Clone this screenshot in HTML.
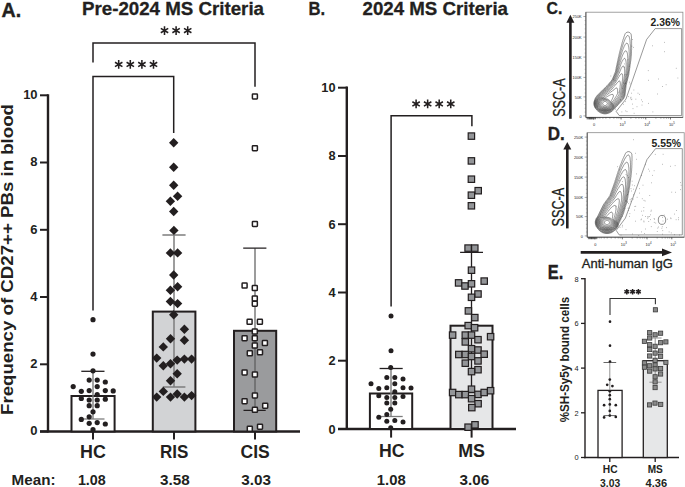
<!DOCTYPE html>
<html><head><meta charset="utf-8"><style>
html,body{margin:0;padding:0;background:#fff;}
svg{display:block;}
text{font-family:"Liberation Sans",sans-serif;}
</style></head><body>
<svg width="685" height="487" viewBox="0 0 685 487">
<rect width="685" height="487" fill="#fff"/>
<text x="1.6" y="16.7" font-size="20.5" font-weight="bold" font-family="Liberation Sans" fill="#231f20" text-anchor="start" textLength="19.6" lengthAdjust="spacingAndGlyphs" stroke="#231f20" stroke-width="0.4">A.</text>
<text x="82" y="15.2" font-size="18.5" font-weight="bold" font-family="Liberation Sans" fill="#231f20" text-anchor="start" textLength="182" lengthAdjust="spacingAndGlyphs" stroke="#231f20" stroke-width="0.3">Pre-2024 MS Criteria</text>
<path d="M48,94.2V432.6" stroke="#231f20" stroke-width="2.4" fill="none"/>
<path d="M40,95.3H48" stroke="#231f20" stroke-width="2"/>
<text x="37.6" y="99.1" font-size="13" font-weight="bold" font-family="Liberation Sans" fill="#231f20" text-anchor="end">10</text>
<path d="M40,162.5H48" stroke="#231f20" stroke-width="2"/>
<text x="37.6" y="166.34" font-size="13" font-weight="bold" font-family="Liberation Sans" fill="#231f20" text-anchor="end">8</text>
<path d="M40,229.8H48" stroke="#231f20" stroke-width="2"/>
<text x="37.6" y="233.57999999999998" font-size="13" font-weight="bold" font-family="Liberation Sans" fill="#231f20" text-anchor="end">6</text>
<path d="M40,297.0H48" stroke="#231f20" stroke-width="2"/>
<text x="37.6" y="300.82" font-size="13" font-weight="bold" font-family="Liberation Sans" fill="#231f20" text-anchor="end">4</text>
<path d="M40,364.3H48" stroke="#231f20" stroke-width="2"/>
<text x="37.6" y="368.06" font-size="13" font-weight="bold" font-family="Liberation Sans" fill="#231f20" text-anchor="end">2</text>
<path d="M40,431.5H48" stroke="#231f20" stroke-width="2"/>
<text x="37.6" y="435.3" font-size="13" font-weight="bold" font-family="Liberation Sans" fill="#231f20" text-anchor="end">0</text>
<g transform="translate(13.4,415) rotate(-90)"><text x="0" y="0" font-size="16.8" font-weight="bold" font-family="Liberation Sans" fill="#231f20" text-anchor="start" textLength="311" lengthAdjust="spacingAndGlyphs">Frequency of CD27++ PBs in blood</text></g>
<path d="M40,431.5H300" stroke="#231f20" stroke-width="2.4"/>
<path d="M93,431.5V439.5" stroke="#231f20" stroke-width="2"/>
<path d="M174,431.5V439.5" stroke="#231f20" stroke-width="2"/>
<path d="M255,431.5V439.5" stroke="#231f20" stroke-width="2"/>
<rect x="71.5" y="396" width="43.1" height="35.5" fill="#fff" stroke="#231f20" stroke-width="2"/>
<rect x="152.8" y="311.6" width="42.6" height="119.9" fill="#d2d3d5" stroke="#231f20" stroke-width="2"/>
<rect x="234" y="330.8" width="42.2" height="100.7" fill="#9a9b9d" stroke="#231f20" stroke-width="2"/>
<path d="M93,371.3V419" stroke="#7d7d7d" stroke-width="1.4"/>
<path d="M81.3,371.3H104.5" stroke="#231f20" stroke-width="1.3"/>
<path d="M81.3,419H104.5" stroke="#7d7d7d" stroke-width="1.3"/>
<path d="M174,234.9V387" stroke="#7d7d7d" stroke-width="1.5"/>
<path d="M162.4,234.9H185.6M162.8,387H185.4" stroke="#7d7d7d" stroke-width="1.5"/>
<path d="M255,248.2V410.2" stroke="#5a5a5a" stroke-width="1.2"/>
<path d="M243.2,248.2H266.4M243.5,410.3H265.7" stroke="#231f20" stroke-width="1.2"/>
<path d="M93,62.4V43H255V86.8" stroke="#231f20" stroke-width="1.5" fill="none"/>
<path d="M93,310.4V76.6H173.7V133" stroke="#231f20" stroke-width="1.5" fill="none"/>
<path d="M164.50,26.30L164.50,34.90M168.22,28.45L160.78,32.75M168.22,32.75L160.78,28.45" stroke="#231f20" stroke-width="1.55" fill="none"/><path d="M176.10,26.30L176.10,34.90M179.82,28.45L172.38,32.75M179.82,32.75L172.38,28.45" stroke="#231f20" stroke-width="1.55" fill="none"/><path d="M187.70,26.30L187.70,34.90M191.42,28.45L183.98,32.75M191.42,32.75L183.98,28.45" stroke="#231f20" stroke-width="1.55" fill="none"/>
<path d="M118.70,60.10L118.70,68.70M122.42,62.25L114.98,66.55M122.42,66.55L114.98,62.25" stroke="#231f20" stroke-width="1.55" fill="none"/><path d="M130.30,60.10L130.30,68.70M134.02,62.25L126.58,66.55M134.02,66.55L126.58,62.25" stroke="#231f20" stroke-width="1.55" fill="none"/><path d="M141.90,60.10L141.90,68.70M145.62,62.25L138.18,66.55M145.62,66.55L138.18,62.25" stroke="#231f20" stroke-width="1.55" fill="none"/><path d="M153.50,60.10L153.50,68.70M157.22,62.25L149.78,66.55M157.22,66.55L149.78,62.25" stroke="#231f20" stroke-width="1.55" fill="none"/>
<circle cx="93" cy="319.7" r="2.6" fill="#231f20"/>
<circle cx="93" cy="354.1" r="2.6" fill="#231f20"/>
<circle cx="93" cy="370.8" r="2.6" fill="#231f20"/>
<circle cx="89.2" cy="380.1" r="2.6" fill="#231f20"/>
<circle cx="97.2" cy="380.1" r="2.6" fill="#231f20"/>
<circle cx="105.3" cy="382" r="2.6" fill="#231f20"/>
<circle cx="73.2" cy="386.6" r="2.6" fill="#231f20"/>
<circle cx="97.2" cy="386.6" r="2.6" fill="#231f20"/>
<circle cx="81.3" cy="391.3" r="2.6" fill="#231f20"/>
<circle cx="89.2" cy="390.6" r="2.6" fill="#231f20"/>
<circle cx="105.3" cy="390.6" r="2.6" fill="#231f20"/>
<circle cx="113.2" cy="390.9" r="2.6" fill="#231f20"/>
<circle cx="97.2" cy="394.5" r="2.6" fill="#231f20"/>
<circle cx="81.3" cy="398.5" r="2.6" fill="#231f20"/>
<circle cx="89.2" cy="400" r="2.6" fill="#231f20"/>
<circle cx="97.2" cy="400" r="2.6" fill="#231f20"/>
<circle cx="105.3" cy="399.2" r="2.6" fill="#231f20"/>
<circle cx="89.2" cy="405.7" r="2.6" fill="#231f20"/>
<circle cx="97.2" cy="405.7" r="2.6" fill="#231f20"/>
<circle cx="93" cy="411.8" r="2.6" fill="#231f20"/>
<circle cx="89.2" cy="416.8" r="2.6" fill="#231f20"/>
<circle cx="81.3" cy="419.4" r="2.6" fill="#231f20"/>
<circle cx="89.2" cy="423.3" r="2.6" fill="#231f20"/>
<circle cx="97.2" cy="422.6" r="2.6" fill="#231f20"/>
<circle cx="105.3" cy="424" r="2.6" fill="#231f20"/>
<circle cx="93" cy="429.7" r="2.6" fill="#231f20"/>
<path d="M173.7,138.0L178.39999999999998,142.7L173.7,147.39999999999998L169.0,142.7Z" fill="#231f20"/>
<path d="M173.7,162.5L178.39999999999998,167.2L173.7,171.89999999999998L169.0,167.2Z" fill="#231f20"/>
<path d="M173.7,180.5L178.39999999999998,185.2L173.7,189.89999999999998L169.0,185.2Z" fill="#231f20"/>
<path d="M177.6,191.60000000000002L182.29999999999998,196.3L177.6,201.0L172.9,196.3Z" fill="#231f20"/>
<path d="M170.4,196.60000000000002L175.1,201.3L170.4,206.0L165.70000000000002,201.3Z" fill="#231f20"/>
<path d="M173.7,206.8L178.39999999999998,211.5L173.7,216.2L169.0,211.5Z" fill="#231f20"/>
<path d="M173.9,225.70000000000002L178.6,230.4L173.9,235.1L169.20000000000002,230.4Z" fill="#231f20"/>
<path d="M170.4,248.20000000000002L175.1,252.9L170.4,257.6L165.70000000000002,252.9Z" fill="#231f20"/>
<path d="M177.6,248.20000000000002L182.29999999999998,252.9L177.6,257.6L172.9,252.9Z" fill="#231f20"/>
<path d="M173.7,270.3L178.39999999999998,275L173.7,279.7L169.0,275Z" fill="#231f20"/>
<path d="M177.6,282.0L182.29999999999998,286.7L177.6,291.4L172.9,286.7Z" fill="#231f20"/>
<path d="M170.4,285.5L175.1,290.2L170.4,294.9L165.70000000000002,290.2Z" fill="#231f20"/>
<path d="M170.4,296.8L175.1,301.5L170.4,306.2L165.70000000000002,301.5Z" fill="#231f20"/>
<path d="M177.6,298.90000000000003L182.29999999999998,303.6L177.6,308.3L172.9,303.6Z" fill="#231f20"/>
<path d="M173.7,310.0L178.39999999999998,314.7L173.7,319.4L169.0,314.7Z" fill="#231f20"/>
<path d="M184.4,324.5L189.1,329.2L184.4,333.9L179.70000000000002,329.2Z" fill="#231f20"/>
<path d="M170.5,334.1L175.2,338.8L170.5,343.5L165.8,338.8Z" fill="#231f20"/>
<path d="M184.4,335.6L189.1,340.3L184.4,345.0L179.70000000000002,340.3Z" fill="#231f20"/>
<path d="M163.3,342.2L168.0,346.9L163.3,351.59999999999997L158.60000000000002,346.9Z" fill="#231f20"/>
<path d="M156.7,353.40000000000003L161.39999999999998,358.1L156.7,362.8L152.0,358.1Z" fill="#231f20"/>
<path d="M177.2,355.40000000000003L181.89999999999998,360.1L177.2,364.8L172.5,360.1Z" fill="#231f20"/>
<path d="M184.4,354.40000000000003L189.1,359.1L184.4,363.8L179.70000000000002,359.1Z" fill="#231f20"/>
<path d="M191.6,354.40000000000003L196.29999999999998,359.1L191.6,363.8L186.9,359.1Z" fill="#231f20"/>
<path d="M163.3,361.1L168.0,365.8L163.3,370.5L158.60000000000002,365.8Z" fill="#231f20"/>
<path d="M170.5,359.0L175.2,363.7L170.5,368.4L165.8,363.7Z" fill="#231f20"/>
<path d="M177.2,369.1L181.89999999999998,373.8L177.2,378.5L172.5,373.8Z" fill="#231f20"/>
<path d="M170.5,376.0L175.2,380.7L170.5,385.4L165.8,380.7Z" fill="#231f20"/>
<path d="M163.3,386.7L168.0,391.4L163.3,396.09999999999997L158.60000000000002,391.4Z" fill="#231f20"/>
<path d="M156.7,392.40000000000003L161.39999999999998,397.1L156.7,401.8L152.0,397.1Z" fill="#231f20"/>
<path d="M170.5,392.40000000000003L175.2,397.1L170.5,401.8L165.8,397.1Z" fill="#231f20"/>
<path d="M177.2,389.3L181.89999999999998,394L177.2,398.7L172.5,394Z" fill="#231f20"/>
<path d="M184.4,392.40000000000003L189.1,397.1L184.4,401.8L179.70000000000002,397.1Z" fill="#231f20"/>
<path d="M191.6,390.90000000000003L196.29999999999998,395.6L191.6,400.3L186.9,395.6Z" fill="#231f20"/>
<rect x="252.40" y="93.90" width="5.0" height="5.0" rx="0.6" fill="#fff" stroke="#231f20" stroke-width="1.5"/>
<rect x="252.40" y="145.70" width="5.0" height="5.0" rx="0.6" fill="#fff" stroke="#231f20" stroke-width="1.5"/>
<rect x="252.40" y="221.40" width="5.0" height="5.0" rx="0.6" fill="#fff" stroke="#231f20" stroke-width="1.5"/>
<rect x="242.10" y="283.10" width="5.0" height="5.0" rx="0.6" fill="#fff" stroke="#231f20" stroke-width="1.5"/>
<rect x="252.30" y="285.60" width="5.0" height="5.0" rx="0.6" fill="#fff" stroke="#231f20" stroke-width="1.5"/>
<rect x="252.30" y="295.90" width="5.0" height="5.0" rx="0.6" fill="#fff" stroke="#231f20" stroke-width="1.5"/>
<rect x="252.30" y="301.20" width="5.0" height="5.0" rx="0.6" fill="#fff" stroke="#231f20" stroke-width="1.5"/>
<rect x="247.10" y="319.30" width="5.0" height="5.0" rx="0.6" fill="#fff" stroke="#231f20" stroke-width="1.5"/>
<rect x="257.40" y="319.30" width="5.0" height="5.0" rx="0.6" fill="#fff" stroke="#231f20" stroke-width="1.5"/>
<rect x="252.30" y="329.10" width="5.0" height="5.0" rx="0.6" fill="#fff" stroke="#231f20" stroke-width="1.5"/>
<rect x="242.10" y="335.70" width="5.0" height="5.0" rx="0.6" fill="#fff" stroke="#231f20" stroke-width="1.5"/>
<rect x="252.30" y="335.70" width="5.0" height="5.0" rx="0.6" fill="#fff" stroke="#231f20" stroke-width="1.5"/>
<rect x="262.40" y="340.60" width="5.0" height="5.0" rx="0.6" fill="#fff" stroke="#231f20" stroke-width="1.5"/>
<rect x="252.30" y="343.10" width="5.0" height="5.0" rx="0.6" fill="#fff" stroke="#231f20" stroke-width="1.5"/>
<rect x="247.30" y="350.80" width="5.0" height="5.0" rx="0.6" fill="#fff" stroke="#231f20" stroke-width="1.5"/>
<rect x="257.50" y="349.80" width="5.0" height="5.0" rx="0.6" fill="#fff" stroke="#231f20" stroke-width="1.5"/>
<rect x="242.10" y="369.90" width="5.0" height="5.0" rx="0.6" fill="#fff" stroke="#231f20" stroke-width="1.5"/>
<rect x="252.40" y="372.00" width="5.0" height="5.0" rx="0.6" fill="#fff" stroke="#231f20" stroke-width="1.5"/>
<rect x="252.40" y="392.90" width="5.0" height="5.0" rx="0.6" fill="#fff" stroke="#231f20" stroke-width="1.5"/>
<rect x="242.10" y="398.70" width="5.0" height="5.0" rx="0.6" fill="#fff" stroke="#231f20" stroke-width="1.5"/>
<rect x="262.70" y="403.20" width="5.0" height="5.0" rx="0.6" fill="#fff" stroke="#231f20" stroke-width="1.5"/>
<rect x="252.40" y="407.30" width="5.0" height="5.0" rx="0.6" fill="#fff" stroke="#231f20" stroke-width="1.5"/>
<rect x="247.30" y="426.20" width="5.0" height="5.0" rx="0.6" fill="#fff" stroke="#231f20" stroke-width="1.5"/>
<rect x="257.50" y="424.20" width="5.0" height="5.0" rx="0.6" fill="#fff" stroke="#231f20" stroke-width="1.5"/>
<text x="80" y="457.9" font-size="17.5" font-weight="bold" font-family="Liberation Sans" fill="#231f20" text-anchor="start" textLength="25.8" lengthAdjust="spacingAndGlyphs">HC</text>
<text x="160" y="457.9" font-size="17.5" font-weight="bold" font-family="Liberation Sans" fill="#231f20" text-anchor="start" textLength="28.4" lengthAdjust="spacingAndGlyphs">RIS</text>
<text x="240.5" y="457.9" font-size="17.5" font-weight="bold" font-family="Liberation Sans" fill="#231f20" text-anchor="start" textLength="29.2" lengthAdjust="spacingAndGlyphs">CIS</text>
<text x="11.6" y="485.2" font-size="15" font-weight="bold" font-family="Liberation Sans" fill="#231f20" text-anchor="start" textLength="43.9" lengthAdjust="spacingAndGlyphs">Mean:</text>
<text x="77.9" y="485.2" font-size="15" font-weight="bold" font-family="Liberation Sans" fill="#231f20" text-anchor="start" textLength="27.9" lengthAdjust="spacingAndGlyphs">1.08</text>
<text x="160" y="485.2" font-size="15" font-weight="bold" font-family="Liberation Sans" fill="#231f20" text-anchor="start" textLength="29.7" lengthAdjust="spacingAndGlyphs">3.58</text>
<text x="241.3" y="485.2" font-size="15" font-weight="bold" font-family="Liberation Sans" fill="#231f20" text-anchor="start" textLength="29.7" lengthAdjust="spacingAndGlyphs">3.03</text>
<text x="308.4" y="14.6" font-size="19" font-weight="bold" font-family="Liberation Sans" fill="#231f20" text-anchor="start" textLength="16.6" lengthAdjust="spacingAndGlyphs" stroke="#231f20" stroke-width="0.3">B.</text>
<text x="362.5" y="15.2" font-size="18.5" font-weight="bold" font-family="Liberation Sans" fill="#231f20" text-anchor="start" textLength="145.5" lengthAdjust="spacingAndGlyphs" stroke="#231f20" stroke-width="0.3">2024 MS Criteria</text>
<path d="M346.8,86.5V430.1" stroke="#231f20" stroke-width="2.4" fill="none"/>
<path d="M338,87.7H347" stroke="#231f20" stroke-width="2"/>
<text x="335.5" y="92.2" font-size="12.8" font-weight="bold" font-family="Liberation Sans" fill="#231f20" text-anchor="end">10</text>
<path d="M338,156.0H347" stroke="#231f20" stroke-width="2"/>
<text x="335.5" y="160.46" font-size="12.8" font-weight="bold" font-family="Liberation Sans" fill="#231f20" text-anchor="end">8</text>
<path d="M338,224.2H347" stroke="#231f20" stroke-width="2"/>
<text x="335.5" y="228.72000000000003" font-size="12.8" font-weight="bold" font-family="Liberation Sans" fill="#231f20" text-anchor="end">6</text>
<path d="M338,292.5H347" stroke="#231f20" stroke-width="2"/>
<text x="335.5" y="296.98" font-size="12.8" font-weight="bold" font-family="Liberation Sans" fill="#231f20" text-anchor="end">4</text>
<path d="M338,360.7H347" stroke="#231f20" stroke-width="2"/>
<text x="335.5" y="365.24" font-size="12.8" font-weight="bold" font-family="Liberation Sans" fill="#231f20" text-anchor="end">2</text>
<path d="M338,429.0H347" stroke="#231f20" stroke-width="2"/>
<text x="335.5" y="433.5" font-size="12.8" font-weight="bold" font-family="Liberation Sans" fill="#231f20" text-anchor="end">0</text>
<path d="M338,429H516" stroke="#231f20" stroke-width="2.4"/>
<path d="M391.1,429V437.6" stroke="#231f20" stroke-width="2"/>
<path d="M471.6,429V437.6" stroke="#231f20" stroke-width="2"/>
<rect x="369.9" y="393.5" width="42.3" height="35.5" fill="#fff" stroke="#231f20" stroke-width="2"/>
<rect x="450.5" y="325.7" width="42" height="103.3" fill="#e6e7e8" stroke="#231f20" stroke-width="2"/>
<path d="M391,368.5V416.5" stroke="#7d7d7d" stroke-width="1.4"/>
<path d="M379.6,368.5H402.7" stroke="#231f20" stroke-width="1.3"/>
<path d="M379.6,416.5H402.7" stroke="#7d7d7d" stroke-width="1.3"/>
<path d="M471.5,252.4V392.5M460.1,252.4H483M460.1,392.5H483" stroke="#231f20" stroke-width="1.3"/>
<path d="M391.1,306.4V115.8H471.9V126.3" stroke="#231f20" stroke-width="1.5" fill="none"/>
<path d="M416.10,99.60L416.10,108.20M419.82,101.75L412.38,106.05M419.82,106.05L412.38,101.75" stroke="#231f20" stroke-width="1.55" fill="none"/><path d="M427.65,99.60L427.65,108.20M431.37,101.75L423.93,106.05M431.37,106.05L423.93,101.75" stroke="#231f20" stroke-width="1.55" fill="none"/><path d="M439.20,99.60L439.20,108.20M442.92,101.75L435.48,106.05M442.92,106.05L435.48,101.75" stroke="#231f20" stroke-width="1.55" fill="none"/><path d="M450.75,99.60L450.75,108.20M454.47,101.75L447.03,106.05M454.47,106.05L447.03,101.75" stroke="#231f20" stroke-width="1.55" fill="none"/>
<circle cx="391" cy="316" r="2.5" fill="#231f20"/>
<circle cx="391" cy="350.8" r="2.5" fill="#231f20"/>
<circle cx="390.7" cy="367.4" r="2.5" fill="#231f20"/>
<circle cx="386.8" cy="377.4" r="2.5" fill="#231f20"/>
<circle cx="394.8" cy="377.4" r="2.5" fill="#231f20"/>
<circle cx="403" cy="378.9" r="2.5" fill="#231f20"/>
<circle cx="371" cy="383.8" r="2.5" fill="#231f20"/>
<circle cx="394.8" cy="383.8" r="2.5" fill="#231f20"/>
<circle cx="378.8" cy="388.5" r="2.5" fill="#231f20"/>
<circle cx="386.8" cy="387.7" r="2.5" fill="#231f20"/>
<circle cx="403" cy="387.7" r="2.5" fill="#231f20"/>
<circle cx="411" cy="388" r="2.5" fill="#231f20"/>
<circle cx="394.8" cy="391.8" r="2.5" fill="#231f20"/>
<circle cx="378.8" cy="395.7" r="2.5" fill="#231f20"/>
<circle cx="386.8" cy="397.4" r="2.5" fill="#231f20"/>
<circle cx="394.8" cy="397.4" r="2.5" fill="#231f20"/>
<circle cx="403" cy="396.6" r="2.5" fill="#231f20"/>
<circle cx="386.8" cy="403" r="2.5" fill="#231f20"/>
<circle cx="394.8" cy="403" r="2.5" fill="#231f20"/>
<circle cx="390.7" cy="409.2" r="2.5" fill="#231f20"/>
<circle cx="386.8" cy="414.6" r="2.5" fill="#231f20"/>
<circle cx="378.8" cy="417.2" r="2.5" fill="#231f20"/>
<circle cx="386.8" cy="421.2" r="2.5" fill="#231f20"/>
<circle cx="394.8" cy="420.5" r="2.5" fill="#231f20"/>
<circle cx="403" cy="422" r="2.5" fill="#231f20"/>
<circle cx="390.7" cy="427.7" r="2.5" fill="#231f20"/>
<rect x="468.20" y="132.90" width="6.4" height="6.4" fill="#939598" stroke="#231f20" stroke-width="1.2"/>
<rect x="468.20" y="157.70" width="6.4" height="6.4" fill="#939598" stroke="#231f20" stroke-width="1.2"/>
<rect x="468.20" y="176.00" width="6.4" height="6.4" fill="#939598" stroke="#231f20" stroke-width="1.2"/>
<rect x="475.00" y="187.50" width="6.4" height="6.4" fill="#939598" stroke="#231f20" stroke-width="1.2"/>
<rect x="468.20" y="192.00" width="6.4" height="6.4" fill="#939598" stroke="#231f20" stroke-width="1.2"/>
<rect x="468.20" y="202.60" width="6.4" height="6.4" fill="#939598" stroke="#231f20" stroke-width="1.2"/>
<rect x="464.90" y="244.90" width="6.4" height="6.4" fill="#939598" stroke="#231f20" stroke-width="1.2"/>
<rect x="471.60" y="244.90" width="6.4" height="6.4" fill="#939598" stroke="#231f20" stroke-width="1.2"/>
<rect x="468.30" y="267.00" width="6.4" height="6.4" fill="#939598" stroke="#231f20" stroke-width="1.2"/>
<rect x="455.40" y="279.70" width="6.4" height="6.4" fill="#939598" stroke="#231f20" stroke-width="1.2"/>
<rect x="461.80" y="282.80" width="6.4" height="6.4" fill="#939598" stroke="#231f20" stroke-width="1.2"/>
<rect x="468.30" y="280.60" width="6.4" height="6.4" fill="#939598" stroke="#231f20" stroke-width="1.2"/>
<rect x="481.00" y="277.90" width="6.4" height="6.4" fill="#939598" stroke="#231f20" stroke-width="1.2"/>
<rect x="474.80" y="290.80" width="6.4" height="6.4" fill="#939598" stroke="#231f20" stroke-width="1.2"/>
<rect x="468.30" y="294.10" width="6.4" height="6.4" fill="#939598" stroke="#231f20" stroke-width="1.2"/>
<rect x="465.20" y="307.70" width="6.4" height="6.4" fill="#939598" stroke="#231f20" stroke-width="1.2"/>
<rect x="471.60" y="314.40" width="6.4" height="6.4" fill="#939598" stroke="#231f20" stroke-width="1.2"/>
<rect x="465.00" y="322.40" width="6.4" height="6.4" fill="#939598" stroke="#231f20" stroke-width="1.2"/>
<rect x="471.40" y="324.50" width="6.4" height="6.4" fill="#939598" stroke="#231f20" stroke-width="1.2"/>
<rect x="449.40" y="331.90" width="6.4" height="6.4" fill="#939598" stroke="#231f20" stroke-width="1.2"/>
<rect x="462.10" y="331.90" width="6.4" height="6.4" fill="#939598" stroke="#231f20" stroke-width="1.2"/>
<rect x="468.30" y="331.90" width="6.4" height="6.4" fill="#939598" stroke="#231f20" stroke-width="1.2"/>
<rect x="487.40" y="333.50" width="6.4" height="6.4" fill="#939598" stroke="#231f20" stroke-width="1.2"/>
<rect x="474.80" y="336.50" width="6.4" height="6.4" fill="#939598" stroke="#231f20" stroke-width="1.2"/>
<rect x="462.10" y="338.70" width="6.4" height="6.4" fill="#939598" stroke="#231f20" stroke-width="1.2"/>
<rect x="468.30" y="345.50" width="6.4" height="6.4" fill="#939598" stroke="#231f20" stroke-width="1.2"/>
<rect x="474.80" y="346.80" width="6.4" height="6.4" fill="#939598" stroke="#231f20" stroke-width="1.2"/>
<rect x="455.60" y="351.30" width="6.4" height="6.4" fill="#939598" stroke="#231f20" stroke-width="1.2"/>
<rect x="462.10" y="351.30" width="6.4" height="6.4" fill="#939598" stroke="#231f20" stroke-width="1.2"/>
<rect x="468.30" y="353.30" width="6.4" height="6.4" fill="#939598" stroke="#231f20" stroke-width="1.2"/>
<rect x="481.00" y="351.00" width="6.4" height="6.4" fill="#939598" stroke="#231f20" stroke-width="1.2"/>
<rect x="474.80" y="357.70" width="6.4" height="6.4" fill="#939598" stroke="#231f20" stroke-width="1.2"/>
<rect x="462.10" y="360.00" width="6.4" height="6.4" fill="#939598" stroke="#231f20" stroke-width="1.2"/>
<rect x="474.80" y="366.50" width="6.4" height="6.4" fill="#939598" stroke="#231f20" stroke-width="1.2"/>
<rect x="468.30" y="368.40" width="6.4" height="6.4" fill="#939598" stroke="#231f20" stroke-width="1.2"/>
<rect x="468.30" y="386.00" width="6.4" height="6.4" fill="#939598" stroke="#231f20" stroke-width="1.2"/>
<rect x="449.40" y="389.30" width="6.4" height="6.4" fill="#939598" stroke="#231f20" stroke-width="1.2"/>
<rect x="455.60" y="391.40" width="6.4" height="6.4" fill="#939598" stroke="#231f20" stroke-width="1.2"/>
<rect x="462.10" y="391.40" width="6.4" height="6.4" fill="#939598" stroke="#231f20" stroke-width="1.2"/>
<rect x="474.80" y="391.20" width="6.4" height="6.4" fill="#939598" stroke="#231f20" stroke-width="1.2"/>
<rect x="481.00" y="389.30" width="6.4" height="6.4" fill="#939598" stroke="#231f20" stroke-width="1.2"/>
<rect x="487.40" y="387.50" width="6.4" height="6.4" fill="#939598" stroke="#231f20" stroke-width="1.2"/>
<rect x="468.40" y="395.50" width="6.4" height="6.4" fill="#939598" stroke="#231f20" stroke-width="1.2"/>
<rect x="474.90" y="400.50" width="6.4" height="6.4" fill="#939598" stroke="#231f20" stroke-width="1.2"/>
<rect x="468.60" y="404.40" width="6.4" height="6.4" fill="#939598" stroke="#231f20" stroke-width="1.2"/>
<rect x="464.90" y="424.00" width="6.4" height="6.4" fill="#939598" stroke="#231f20" stroke-width="1.2"/>
<rect x="471.80" y="421.60" width="6.4" height="6.4" fill="#939598" stroke="#231f20" stroke-width="1.2"/>
<text x="378.9" y="457.1" font-size="17.5" font-weight="bold" font-family="Liberation Sans" fill="#231f20" text-anchor="start" textLength="25.5" lengthAdjust="spacingAndGlyphs">HC</text>
<text x="458.2" y="457.1" font-size="17.5" font-weight="bold" font-family="Liberation Sans" fill="#231f20" text-anchor="start" textLength="26.8" lengthAdjust="spacingAndGlyphs">MS</text>
<text x="376.8" y="485.4" font-size="15" font-weight="bold" font-family="Liberation Sans" fill="#231f20" text-anchor="start" textLength="28.9" lengthAdjust="spacingAndGlyphs">1.08</text>
<text x="459.5" y="485.4" font-size="15" font-weight="bold" font-family="Liberation Sans" fill="#231f20" text-anchor="start" textLength="29.7" lengthAdjust="spacingAndGlyphs">3.06</text>
<text x="546.6" y="13.5" font-size="17" font-weight="bold" font-family="Liberation Sans" fill="#231f20" text-anchor="start" textLength="15.8" lengthAdjust="spacingAndGlyphs" stroke="#231f20" stroke-width="0.35">C.</text>
<rect x="585.9" y="12.2" width="97.0" height="105.2" fill="none" stroke="#8a8a8a" stroke-width="0.8"/>
<path d="M585.9,12.2V117.4H682.9" fill="none" stroke="#444" stroke-width="0.8"/>
<text x="581.6999999999999" y="18.3" font-size="3.9" font-weight="normal" font-family="Liberation Sans" fill="#222" text-anchor="end">250K</text>
<path d="M583.4,16.5H585.9" stroke="#555" stroke-width="0.5"/>
<text x="581.6999999999999" y="38.9" font-size="3.9" font-weight="normal" font-family="Liberation Sans" fill="#222" text-anchor="end">200K</text>
<path d="M583.4,37.1H585.9" stroke="#555" stroke-width="0.5"/>
<text x="581.6999999999999" y="58.9" font-size="3.9" font-weight="normal" font-family="Liberation Sans" fill="#222" text-anchor="end">150K</text>
<path d="M583.4,57.1H585.9" stroke="#555" stroke-width="0.5"/>
<text x="581.6999999999999" y="79.2" font-size="3.9" font-weight="normal" font-family="Liberation Sans" fill="#222" text-anchor="end">100K</text>
<path d="M583.4,77.4H585.9" stroke="#555" stroke-width="0.5"/>
<text x="581.6999999999999" y="98.7" font-size="3.9" font-weight="normal" font-family="Liberation Sans" fill="#222" text-anchor="end">50K</text>
<path d="M583.4,96.9H585.9" stroke="#555" stroke-width="0.5"/>
<text x="581.6999999999999" y="117.7" font-size="3.9" font-weight="normal" font-family="Liberation Sans" fill="#222" text-anchor="end">0</text>
<path d="M583.4,115.9H585.9" stroke="#555" stroke-width="0.5"/>
<path d="M584.6,20.6H585.9M584.6,24.7H585.9M584.6,28.9H585.9M584.6,33.0H585.9M584.6,41.1H585.9M584.6,45.1H585.9M584.6,49.1H585.9M584.6,53.1H585.9M584.6,61.2H585.9M584.6,65.2H585.9M584.6,69.3H585.9M584.6,73.3H585.9M584.6,81.3H585.9M584.6,85.2H585.9M584.6,89.1H585.9M584.6,93.0H585.9M584.6,100.7H585.9M584.6,104.5H585.9M584.6,108.3H585.9M584.6,112.1H585.9" stroke="#666" stroke-width="0.4"/>
<text x="594.1" y="126.2" font-size="3.9" font-weight="normal" font-family="Liberation Sans" fill="#222" text-anchor="middle">0</text>
<path d="M593.5,117.4V119.60000000000001" stroke="#444" stroke-width="0.6"/>
<text x="621.7" y="126.2" font-size="3.9" font-weight="normal" font-family="Liberation Sans" fill="#222" text-anchor="middle">10</text>
<text x="623.9" y="124.0" font-size="2.8" font-weight="normal" font-family="Liberation Sans" fill="#222" text-anchor="start">3</text>
<path d="M621.1,117.4V119.60000000000001" stroke="#444" stroke-width="0.6"/>
<text x="646.4" y="126.2" font-size="3.9" font-weight="normal" font-family="Liberation Sans" fill="#222" text-anchor="middle">10</text>
<text x="648.5999999999999" y="124.0" font-size="2.8" font-weight="normal" font-family="Liberation Sans" fill="#222" text-anchor="start">4</text>
<path d="M645.8,117.4V119.60000000000001" stroke="#444" stroke-width="0.6"/>
<text x="671.1" y="126.2" font-size="3.9" font-weight="normal" font-family="Liberation Sans" fill="#222" text-anchor="middle">10</text>
<text x="673.3" y="124.0" font-size="2.8" font-weight="normal" font-family="Liberation Sans" fill="#222" text-anchor="start">5</text>
<path d="M670.5,117.4V119.60000000000001" stroke="#444" stroke-width="0.6"/>
<path d="M587.9,117.4V118.80000000000001M589.4,117.4V118.80000000000001M590.4,117.4V118.80000000000001M591.4,117.4V118.80000000000001M592.4,117.4V118.80000000000001M594.9,117.4V118.80000000000001M595.9,117.4V118.80000000000001M597.9,117.4V118.80000000000001M599.9,117.4V118.80000000000001M602.9,117.4V118.80000000000001M605.9,117.4V118.80000000000001M609.9,117.4V118.80000000000001M613.9,117.4V118.80000000000001M616.9,117.4V118.80000000000001M618.9,117.4V118.80000000000001M620.9,117.4V118.80000000000001M630.9,117.4V118.80000000000001M635.9,117.4V118.80000000000001M638.9,117.4V118.80000000000001M641.4,117.4V118.80000000000001M643.4,117.4V118.80000000000001M645.4,117.4V118.80000000000001M655.9,117.4V118.80000000000001M660.9,117.4V118.80000000000001M663.9,117.4V118.80000000000001M666.4,117.4V118.80000000000001M668.4,117.4V118.80000000000001M670.4,117.4V118.80000000000001" stroke="#444" stroke-width="0.45"/>
<path d="M587.1,117.4V119.4M588.1,117.4V119.4M588.9,117.4V119.4M589.6,117.4V119.4M590.2,117.4V119.4M590.8,117.4V119.4M591.5,117.4V119.4M592.3,117.4V119.4M593.2,117.4V119.4M594.2,117.4V119.4M595.4,117.4V119.4" stroke="#222" stroke-width="0.55"/>
<path d="M633.8,113.3h0.6M625.5,110.9h0.6M630.9,99.6h0.6M648.2,103.4h0.6M632.7,108.6h0.6M642.0,101.7h0.6M637.7,93.2h0.6M630.1,98.1h0.6M622.3,88.4h0.6M620.0,99.9h0.6M631.6,99.1h0.6M633.6,90.0h0.6M632.4,104.1h0.6M639.0,94.4h0.6M629.8,83.9h0.6M629.0,82.2h0.6M621.6,111.9h0.6M615.4,109.2h0.6M635.6,99.2h0.6M636.7,106.7h0.6M641.4,99.9h0.6M628.3,96.6h0.6M625.1,101.6h0.6M626.7,111.6h0.6M618.0,92.2h0.6M625.4,83.2h0.6M648.2,80.3h0.6M630.7,97.3h0.6M631.6,46.2h0.6M629.3,66.3h0.6M624.4,67.3h0.6M627.6,59.8h0.6M624.7,83.7h0.6M632.4,39.5h0.6M631.1,93.2h0.6M623.1,82.9h0.6M623.1,104.3h0.6M625.8,74.6h0.6M624.1,74.8h0.6M624.3,63.9h0.6M633.2,47.4h0.6M610.6,76.0h0.6M652.4,45.8h0.6M664.0,42.4h0.6M647.9,70.6h0.6M664.4,51.7h0.6M641.7,105.1h0.6M652.6,111.9h0.6M675.9,68.3h0.6M658.4,79.0h0.6M665.8,84.7h0.6M662.4,86.5h0.6M677.6,78.0h0.6M657.2,94.0h0.6" stroke="#555" stroke-width="0.65" fill="none"/>
<path d="M681.6,115.5 L619.2,115.5 L616.2,111.4 L626,99 L646.6,39.5 L655.2,28.6 L681.6,28.6 L681.6,115.5" stroke="#444" stroke-width="0.55" fill="none"/>
<path d="M605.8,113.8L605.2,113.8L604.8,113.8L604.2,113.8L604.0,113.7L603.5,113.7L603.0,113.6L602.5,113.5L602.2,113.4L601.8,113.3L601.5,113.2L601.0,113.0L600.8,112.9L600.4,112.8L600.0,112.6L599.8,112.4L599.4,112.2L599.0,112.0L598.8,111.8L598.5,111.6L598.2,111.4L598.0,111.2L597.8,111.0L597.5,110.8L597.2,110.5L597.0,110.2L596.8,110.0L596.5,109.6L596.2,109.3L596.0,109.0L595.8,108.8L595.6,108.5L595.4,108.2L595.2,108.0L595.0,107.6L594.8,107.2L594.7,107.0L594.5,106.6L594.3,106.2L594.2,106.0L594.1,105.5L594.0,105.0L594.0,104.8L593.9,104.2L593.9,103.8L593.9,103.2L593.9,102.8L594.0,102.2L594.0,102.0L594.1,101.5L594.2,101.0L594.3,100.8L594.5,100.4L594.6,100.0L594.8,99.6L594.9,99.2L595.0,98.9L595.2,98.5L595.3,98.2L595.5,97.9L595.7,97.5L595.9,97.2L596.0,97.0L596.2,96.7L596.5,96.4L596.8,96.0L597.0,95.8L597.2,95.5L597.5,95.2L597.7,95.0L598.0,94.8L598.2,94.5L598.5,94.2L598.7,94.0L599.0,93.8L599.2,93.5L599.5,93.2L599.7,93.0L600.0,92.8L600.2,92.5L600.5,92.2L600.7,92.0L601.0,91.8L601.2,91.5L601.5,91.2L601.7,91.0L602.0,90.8L602.2,90.5L602.5,90.2L602.7,90.0L603.0,89.8L603.2,89.5L603.5,89.3L603.8,89.0L604.0,88.8L604.2,88.5L604.5,88.3L604.8,88.0L605.0,87.8L605.2,87.5L605.5,87.3L605.8,87.0L606.0,86.8L606.2,86.6L606.5,86.3L606.8,86.1L607.0,85.8L607.2,85.5L607.5,85.2L607.7,85.0L607.9,84.8L608.1,84.5L608.3,84.2L608.6,84.0L608.8,83.8L609.0,83.5L609.2,83.2L609.5,82.9L609.8,82.6L610.0,82.3L610.2,82.0L610.4,81.8L610.7,81.5L610.9,81.2L611.1,81.0L611.3,80.8L611.5,80.5L611.8,80.2L612.0,79.9L612.2,79.5L612.4,79.2L612.5,79.0L612.7,78.5L612.8,78.2L613.0,77.8L613.1,77.5L613.2,77.1L613.4,76.8L613.5,76.5L613.7,76.0L613.8,75.8L614.0,75.3L614.1,75.0L614.2,74.7L614.4,74.2L614.5,74.0L614.7,73.5L614.8,73.2L615.0,72.9L615.1,72.5L615.2,72.2L615.5,71.8L615.5,71.5L615.6,71.0L615.7,70.5L615.8,70.2L615.8,69.8L615.9,69.2L616.0,69.0L616.1,68.5L616.2,68.0L616.2,67.7L616.3,67.2L616.4,66.8L616.5,66.5L616.6,66.0L616.7,65.5L616.8,65.2L616.9,64.8L617.0,64.2L617.0,64.0L617.1,63.5L617.2,63.0L617.3,62.8L617.4,62.2L617.5,61.8L617.5,61.5L617.7,61.0L617.8,60.6L617.8,60.2L617.9,59.8L618.0,59.4L618.1,59.0L618.2,58.5L618.3,58.2L618.4,57.8L618.5,57.2L618.6,57.0L618.7,56.5L618.8,56.2L618.8,55.8L619.0,55.2L619.0,55.0L619.1,54.5L619.2,54.1L619.3,53.8L619.4,53.2L619.5,53.0L619.6,52.5L619.8,52.0L619.8,51.8L619.9,51.2L620.0,51.0L620.1,50.5L620.2,50.0L620.3,49.8L620.4,49.2L620.5,49.0L620.6,48.5L620.8,48.0L620.8,47.8L621.0,47.2L621.0,47.0L621.2,46.5L621.2,46.1L621.4,45.8L621.5,45.2L621.6,45.0L621.7,44.5L621.8,44.2L621.9,43.8L622.0,43.4L622.1,43.0L622.2,42.5L622.3,42.2L622.5,41.8L622.5,41.5L622.7,41.0L622.8,40.8L622.9,40.2L623.0,40.0L623.1,39.5L623.2,39.1L623.4,38.8L623.5,38.4L623.6,38.0L623.8,37.6L623.9,37.2L624.0,36.8L624.1,36.5L624.2,36.1L624.4,35.8L624.5,35.4L624.6,35.0L624.8,34.7L624.9,34.2L625.0,34.0L625.2,33.6L625.5,33.3L625.8,33.0L626.0,32.8L626.2,32.7L626.6,32.5L627.0,32.3L627.3,32.2L627.8,32.2L628.2,32.2L628.7,32.2L629.0,32.3L629.4,32.5L629.8,32.7L630.0,32.8L630.2,33.0L630.5,33.3L630.8,33.6L631.0,34.0L631.1,34.2L631.2,34.8L631.3,35.0L631.3,35.5L631.4,36.0L631.4,36.5L631.4,37.0L631.5,37.5L631.5,38.0L631.5,38.2L631.5,38.8L631.5,39.2L631.6,39.8L631.6,40.2L631.6,40.8L631.6,41.2L631.6,41.8L631.6,42.2L631.6,42.8L631.6,43.2L631.6,43.8L631.6,44.2L631.6,44.8L631.6,45.2L631.6,45.8L631.6,46.2L631.6,46.8L631.6,47.2L631.6,47.8L631.6,48.2L631.6,48.8L631.6,49.2L631.6,49.8L631.5,50.2L631.5,50.8L631.5,51.2L631.5,51.6L631.5,52.0L631.5,52.5L631.5,53.0L631.4,53.5L631.4,54.0L631.4,54.5L631.4,55.0L631.3,55.5L631.3,56.0L631.2,56.2L631.2,56.8L631.1,57.2L631.1,57.8L631.0,58.2L631.0,58.5L630.9,59.0L630.9,59.5L630.8,60.0L630.8,60.4L630.7,60.8L630.6,61.2L630.6,61.8L630.5,62.2L630.5,62.5L630.4,63.0L630.4,63.5L630.3,64.0L630.2,64.3L630.2,64.8L630.1,65.2L630.0,65.8L630.0,66.1L629.9,66.5L629.9,67.0L629.8,67.5L629.8,67.9L629.7,68.2L629.6,68.8L629.6,69.2L629.5,69.6L629.4,70.0L629.4,70.5L629.3,71.0L629.2,71.3L629.2,71.8L629.1,72.2L629.0,72.8L629.0,73.0L628.9,73.5L628.8,74.0L628.8,74.5L628.7,74.8L628.6,75.2L628.5,75.7L628.4,76.0L628.3,76.5L628.2,76.8L628.1,77.2L628.0,77.7L627.9,78.0L627.8,78.5L627.7,78.8L627.6,79.2L627.5,79.7L627.4,80.0L627.3,80.5L627.2,80.8L627.1,81.2L627.0,81.6L626.9,82.0L626.8,82.5L626.7,82.8L626.6,83.2L626.5,83.6L626.4,84.0L626.3,84.5L626.2,84.8L626.1,85.2L626.1,85.8L626.0,86.2L626.0,86.5L625.9,87.0L625.9,87.5L625.8,88.0L625.8,88.5L625.7,88.8L625.7,89.2L625.6,89.8L625.5,90.2L625.5,90.7L625.5,91.0L625.4,91.5L625.4,92.0L625.3,92.5L625.3,93.0L625.2,93.2L625.2,93.8L625.1,94.2L625.1,94.8L625.0,95.1L624.9,95.5L624.8,96.0L624.7,96.2L624.5,96.8L624.4,97.0L624.2,97.4L624.1,97.8L623.9,98.0L623.8,98.3L623.5,98.7L623.3,99.0L623.1,99.2L622.9,99.5L622.7,99.8L622.5,100.0L622.2,100.3L622.0,100.6L621.8,100.9L621.5,101.1L621.2,101.4L621.0,101.7L620.8,102.0L620.5,102.2L620.2,102.5L620.0,102.8L619.8,103.0L619.6,103.2L619.3,103.5L619.1,103.8L618.9,104.0L618.6,104.2L618.4,104.5L618.2,104.8L617.9,105.0L617.7,105.2L617.5,105.5L617.2,105.8L617.0,106.0L616.8,106.3L616.5,106.5L616.2,106.8L616.0,107.1L615.8,107.3L615.5,107.6L615.2,107.9L615.0,108.1L614.8,108.4L614.5,108.7L614.2,108.9L614.0,109.2L613.8,109.5L613.5,109.7L613.2,110.0L613.0,110.2L612.8,110.5L612.5,110.8L612.2,111.0L612.0,111.2L611.8,111.4L611.5,111.6L611.2,111.8L611.0,112.0L610.6,112.2L610.2,112.4L610.0,112.6L609.6,112.8L609.2,112.9L609.0,113.0L608.5,113.2L608.2,113.3L607.8,113.4L607.5,113.5L607.0,113.6L606.5,113.7L606.0,113.7L605.8,113.8ZM605.2,113.3L604.8,113.3L604.5,113.2L604.0,113.2L603.5,113.2L603.0,113.1L602.7,113.0L602.2,112.9L601.8,112.8L601.5,112.6L601.1,112.5L600.8,112.3L600.5,112.2L600.1,112.0L599.8,111.8L599.5,111.7L599.2,111.5L598.9,111.2L598.6,111.0L598.3,110.8L598.0,110.5L597.8,110.3L597.5,110.0L597.3,109.8L597.0,109.5L596.8,109.3L596.5,109.0L596.3,108.8L596.1,108.5L595.9,108.2L595.7,108.0L595.5,107.7L595.2,107.3L595.1,107.0L595.0,106.8L594.8,106.2L594.7,106.0L594.5,105.5L594.5,105.2L594.4,104.8L594.3,104.2L594.3,103.8L594.3,103.2L594.3,102.8L594.4,102.2L594.5,101.8L594.5,101.5L594.7,101.0L594.8,100.8L595.0,100.2L595.1,100.0L595.2,99.7L595.4,99.2L595.6,99.0L595.8,98.6L595.9,98.2L596.0,98.0L596.2,97.6L596.5,97.3L596.7,97.0L596.9,96.8L597.1,96.5L597.3,96.2L597.5,96.0L597.8,95.7L598.0,95.5L598.2,95.2L598.5,95.0L598.8,94.7L599.0,94.5L599.3,94.2L599.5,94.0L599.8,93.8L600.0,93.5L600.3,93.2L600.5,93.0L600.8,92.8L601.0,92.5L601.3,92.2L601.5,92.0L601.8,91.8L602.0,91.5L602.3,91.2L602.6,91.0L602.8,90.8L603.1,90.5L603.3,90.2L603.6,90.0L603.8,89.8L604.1,89.5L604.3,89.2L604.6,89.0L604.9,88.8L605.1,88.5L605.4,88.2L605.6,88.0L605.9,87.8L606.2,87.5L606.4,87.2L606.7,87.0L606.9,86.8L607.2,86.5L607.5,86.2L607.7,86.0L607.9,85.8L608.1,85.5L608.3,85.2L608.5,85.0L608.8,84.7L609.0,84.4L609.2,84.1L609.5,83.8L609.8,83.5L610.0,83.2L610.2,83.0L610.4,82.8L610.6,82.5L610.8,82.2L611.0,82.0L611.2,81.7L611.5,81.4L611.8,81.0L612.0,80.8L612.2,80.5L612.4,80.2L612.6,80.0L612.8,79.8L613.0,79.2L613.1,79.0L613.2,78.6L613.4,78.2L613.5,78.0L613.7,77.5L613.8,77.2L614.0,76.8L614.1,76.5L614.2,76.2L614.4,75.8L614.5,75.5L614.7,75.0L614.8,74.8L615.0,74.4L615.2,74.0L615.3,73.8L615.5,73.2L615.6,73.0L615.8,72.6L615.9,72.2L616.0,72.0L616.1,71.5L616.2,71.0L616.3,70.8L616.4,70.2L616.5,69.8L616.5,69.5L616.6,69.0L616.8,68.5L616.8,68.2L616.9,67.8L617.0,67.3L617.1,67.0L617.2,66.5L617.2,66.2L617.3,65.8L617.5,65.2L617.5,65.0L617.6,64.5L617.7,64.0L617.8,63.8L617.9,63.2L618.0,62.9L618.1,62.5L618.2,62.0L618.3,61.8L618.4,61.2L618.5,60.8L618.6,60.5L618.7,60.0L618.8,59.7L618.9,59.2L619.0,58.8L619.1,58.5L619.2,58.0L619.2,57.7L619.4,57.2L619.5,56.8L619.6,56.5L619.7,56.0L619.8,55.8L619.9,55.2L620.0,54.8L620.1,54.5L620.2,54.0L620.3,53.8L620.4,53.2L620.5,53.0L620.6,52.5L620.8,52.1L620.8,51.8L621.0,51.2L621.0,51.0L621.2,50.5L621.3,50.2L621.4,49.8L621.5,49.4L621.6,49.0L621.8,48.5L621.8,48.2L622.0,47.8L622.1,47.5L622.2,47.0L622.3,46.8L622.4,46.2L622.5,46.0L622.7,45.5L622.8,45.2L622.9,44.8L623.0,44.5L623.2,44.0L623.3,43.8L623.4,43.2L623.5,43.0L623.7,42.5L623.8,42.2L624.0,41.8L624.1,41.5L624.2,41.0L624.4,40.8L624.5,40.4L624.7,40.0L624.8,39.8L625.0,39.2L625.1,39.0L625.2,38.7L625.5,38.2L625.6,38.0L625.8,37.7L626.0,37.3L626.2,37.0L626.3,36.8L626.5,36.5L626.8,36.2L627.0,35.9L627.2,35.7L627.8,35.5L628.0,35.5L628.2,35.6L628.5,35.8L628.8,36.1L629.0,36.5L629.1,36.8L629.2,37.1L629.4,37.5L629.5,38.0L629.6,38.2L629.7,38.8L629.8,39.2L629.8,39.5L629.9,40.0L630.0,40.5L630.0,40.9L630.0,41.2L630.1,41.8L630.1,42.2L630.2,42.8L630.2,43.2L630.2,43.6L630.3,44.0L630.3,44.5L630.3,45.0L630.4,45.5L630.4,46.0L630.4,46.5L630.4,47.0L630.4,47.5L630.4,48.0L630.4,48.5L630.5,49.0L630.5,49.5L630.5,50.0L630.5,50.5L630.5,51.0L630.5,51.5L630.5,52.0L630.5,52.5L630.5,53.0L630.5,53.5L630.4,54.0L630.4,54.5L630.4,55.0L630.4,55.5L630.3,56.0L630.3,56.5L630.2,56.9L630.2,57.2L630.2,57.8L630.1,58.2L630.1,58.8L630.0,59.2L630.0,59.6L630.0,60.0L629.9,60.5L629.9,61.0L629.8,61.5L629.8,62.0L629.7,62.2L629.7,62.8L629.6,63.2L629.6,63.8L629.5,64.2L629.5,64.5L629.4,65.0L629.4,65.5L629.3,66.0L629.2,66.3L629.2,66.8L629.1,67.2L629.1,67.8L629.0,68.2L629.0,68.5L628.9,69.0L628.8,69.5L628.8,70.0L628.7,70.2L628.7,70.8L628.6,71.2L628.5,71.8L628.5,72.0L628.4,72.5L628.4,73.0L628.3,73.5L628.2,73.8L628.2,74.2L628.1,74.8L628.0,75.2L627.9,75.5L627.8,76.0L627.8,76.3L627.6,76.8L627.5,77.2L627.5,77.5L627.3,78.0L627.2,78.3L627.1,78.8L627.0,79.2L627.0,79.5L626.8,80.0L626.8,80.4L626.7,80.8L626.5,81.2L626.5,81.5L626.3,82.0L626.2,82.4L626.2,82.8L626.0,83.2L626.0,83.5L625.8,84.0L625.8,84.4L625.7,84.8L625.6,85.2L625.5,85.8L625.5,86.0L625.4,86.5L625.4,87.0L625.3,87.5L625.2,87.8L625.2,88.2L625.1,88.8L625.1,89.2L625.0,89.8L625.0,90.0L624.9,90.5L624.9,91.0L624.8,91.5L624.8,92.0L624.7,92.2L624.7,92.8L624.6,93.2L624.6,93.8L624.5,94.2L624.5,94.5L624.4,95.0L624.3,95.5L624.2,95.8L624.0,96.2L623.9,96.5L623.8,97.0L623.6,97.2L623.5,97.5L623.2,97.9L623.1,98.2L622.9,98.5L622.7,98.8L622.5,99.0L622.2,99.4L622.0,99.7L621.8,99.9L621.5,100.2L621.3,100.5L621.0,100.8L620.8,101.0L620.6,101.2L620.3,101.5L620.1,101.8L619.9,102.0L619.7,102.2L619.4,102.5L619.2,102.8L619.0,103.0L618.7,103.2L618.5,103.5L618.2,103.8L618.0,104.1L617.8,104.3L617.5,104.6L617.2,104.9L617.0,105.2L616.8,105.4L616.5,105.7L616.2,106.0L616.0,106.2L615.8,106.5L615.5,106.8L615.3,107.0L615.1,107.2L614.8,107.5L614.6,107.8L614.4,108.0L614.2,108.2L613.9,108.5L613.7,108.8L613.5,109.0L613.2,109.3L613.0,109.5L612.7,109.8L612.5,110.0L612.2,110.3L612.0,110.5L611.7,110.8L611.4,111.0L611.1,111.2L610.8,111.5L610.5,111.7L610.2,111.8L609.9,112.0L609.5,112.2L609.2,112.3L608.9,112.5L608.5,112.6L608.2,112.8L607.8,112.9L607.3,113.0L607.0,113.1L606.5,113.2L606.0,113.2L605.5,113.2L605.2,113.3ZM606.8,112.5L606.2,112.6L605.8,112.7L605.2,112.7L604.8,112.7L604.2,112.7L603.8,112.6L603.2,112.5L603.0,112.5L602.5,112.4L602.1,112.2L601.8,112.1L601.4,112.0L601.0,111.8L600.8,111.7L600.3,111.5L600.0,111.3L599.8,111.2L599.5,111.0L599.2,110.8L598.8,110.5L598.5,110.2L598.2,110.1L598.0,109.9L597.8,109.7L597.5,109.4L597.2,109.2L597.0,109.0L596.8,108.7L596.5,108.4L596.2,108.1L596.0,107.8L595.9,107.5L595.7,107.2L595.5,106.8L595.3,106.5L595.2,106.2L595.1,105.8L595.0,105.5L594.9,105.0L594.8,104.5L594.7,104.2L594.7,103.8L594.7,103.2L594.7,102.8L594.8,102.5L594.9,102.0L595.0,101.5L595.1,101.2L595.2,100.8L595.3,100.5L595.5,100.2L595.7,99.8L595.9,99.5L596.0,99.2L596.2,98.8L596.4,98.5L596.5,98.2L596.8,97.9L597.0,97.5L597.2,97.2L597.4,97.0L597.6,96.8L597.8,96.5L598.0,96.2L598.3,96.0L598.5,95.8L598.8,95.5L599.0,95.2L599.3,95.0L599.6,94.8L599.8,94.5L600.1,94.2L600.3,94.0L600.6,93.8L600.8,93.5L601.1,93.2L601.4,93.0L601.6,92.8L601.9,92.5L602.1,92.2L602.4,92.0L602.6,91.8L602.9,91.5L603.2,91.2L603.4,91.0L603.7,90.8L603.9,90.5L604.2,90.2L604.5,90.0L604.7,89.8L605.0,89.5L605.2,89.3L605.5,89.0L605.8,88.8L606.0,88.5L606.2,88.3L606.5,88.1L606.8,87.8L607.0,87.6L607.2,87.4L607.5,87.1L607.8,86.9L608.0,86.6L608.2,86.3L608.5,86.0L608.7,85.8L608.9,85.5L609.1,85.2L609.3,85.0L609.6,84.8L609.8,84.5L610.0,84.2L610.2,83.9L610.5,83.6L610.8,83.3L611.0,83.0L611.2,82.8L611.4,82.5L611.6,82.2L611.8,82.0L612.0,81.7L612.2,81.4L612.5,81.1L612.8,80.8L612.9,80.5L613.1,80.2L613.3,80.0L613.5,79.5L613.6,79.2L613.8,78.9L613.9,78.5L614.0,78.2L614.2,77.8L614.3,77.5L614.5,77.1L614.7,76.8L614.8,76.5L615.0,76.0L615.1,75.8L615.2,75.4L615.4,75.0L615.5,74.8L615.7,74.2L615.8,74.0L616.0,73.6L616.2,73.2L616.3,73.0L616.5,72.5L616.6,72.2L616.8,71.8L616.8,71.5L616.9,71.0L617.0,70.7L617.1,70.2L617.2,69.8L617.3,69.5L617.4,69.0L617.5,68.5L617.6,68.2L617.7,67.8L617.8,67.4L617.8,67.0L618.0,66.5L618.0,66.2L618.1,65.8L618.2,65.3L618.3,65.0L618.5,64.5L618.5,64.2L618.6,63.8L618.8,63.3L618.8,63.0L619.0,62.5L619.0,62.2L619.2,61.8L619.2,61.4L619.4,61.0L619.5,60.5L619.6,60.2L619.7,59.8L619.8,59.5L619.9,59.0L620.0,58.7L620.1,58.2L620.2,57.8L620.3,57.5L620.5,57.0L620.6,56.8L620.7,56.2L620.8,56.0L620.9,55.5L621.0,55.2L621.2,54.8L621.2,54.5L621.4,54.0L621.5,53.7L621.7,53.2L621.8,53.0L621.9,52.5L622.0,52.2L622.1,51.8L622.2,51.4L622.4,51.0L622.5,50.7L622.7,50.2L622.8,50.0L622.9,49.5L623.0,49.2L623.2,48.8L623.3,48.5L623.5,48.0L623.6,47.8L623.8,47.4L623.9,47.0L624.0,46.8L624.2,46.3L624.4,46.0L624.5,45.8L624.8,45.3L624.9,45.0L625.1,44.8L625.2,44.5L625.5,44.1L625.8,43.8L626.0,43.5L626.2,43.3L626.5,43.2L627.0,43.2L627.2,43.3L627.5,43.5L627.8,43.8L628.0,44.2L628.1,44.5L628.2,45.0L628.3,45.2L628.4,45.8L628.5,46.0L628.6,46.5L628.7,47.0L628.8,47.4L628.8,47.8L628.9,48.2L628.9,48.8L629.0,49.2L629.0,49.6L629.0,50.0L629.1,50.5L629.1,51.0L629.1,51.5L629.2,52.0L629.2,52.5L629.2,53.0L629.2,53.5L629.2,54.0L629.3,54.2L629.2,54.5L629.2,55.0L629.2,55.5L629.2,56.0L629.2,56.5L629.2,57.0L629.1,57.5L629.1,58.0L629.1,58.5L629.0,59.0L629.0,59.5L629.0,59.8L629.0,60.2L628.9,60.8L628.9,61.2L628.9,61.8L628.8,62.2L628.8,62.8L628.8,63.0L628.7,63.5L628.7,64.0L628.6,64.5L628.6,65.0L628.5,65.5L628.5,65.8L628.4,66.2L628.4,66.8L628.3,67.2L628.3,67.8L628.2,68.1L628.2,68.5L628.2,69.0L628.1,69.5L628.0,70.0L628.0,70.3L628.0,70.8L627.9,71.2L627.8,71.8L627.8,72.2L627.7,72.5L627.7,73.0L627.6,73.5L627.5,74.0L627.5,74.4L627.4,74.8L627.3,75.2L627.2,75.6L627.2,76.0L627.0,76.5L627.0,76.8L626.9,77.2L626.8,77.7L626.7,78.0L626.6,78.5L626.5,78.8L626.4,79.2L626.3,79.8L626.2,80.0L626.1,80.5L626.0,80.9L625.9,81.2L625.8,81.8L625.7,82.0L625.6,82.5L625.5,82.9L625.4,83.2L625.3,83.8L625.2,84.0L625.1,84.5L625.0,85.0L625.0,85.2L624.9,85.8L624.9,86.2L624.8,86.8L624.7,87.0L624.7,87.5L624.6,88.0L624.5,88.5L624.5,88.8L624.4,89.2L624.4,89.8L624.3,90.2L624.3,90.8L624.2,91.0L624.2,91.5L624.1,92.0L624.0,92.5L624.0,92.8L624.0,93.2L623.9,93.8L623.8,94.2L623.8,94.7L623.7,95.0L623.6,95.5L623.5,95.8L623.3,96.2L623.2,96.5L623.0,97.0L622.9,97.2L622.7,97.5L622.5,97.9L622.3,98.2L622.1,98.5L621.9,98.8L621.7,99.0L621.5,99.2L621.2,99.5L621.0,99.8L620.8,100.1L620.5,100.4L620.2,100.6L620.0,100.9L619.8,101.2L619.5,101.5L619.3,101.8L619.0,102.0L618.8,102.2L618.6,102.5L618.4,102.8L618.1,103.0L617.9,103.2L617.7,103.5L617.5,103.8L617.2,104.0L617.0,104.3L616.8,104.5L616.5,104.8L616.2,105.1L616.0,105.4L615.8,105.6L615.5,105.9L615.2,106.2L615.0,106.5L614.8,106.7L614.5,107.0L614.3,107.2L614.1,107.5L614.0,107.8L613.8,108.1L613.5,108.4L613.2,108.7L613.0,109.0L612.8,109.2L612.5,109.4L612.2,109.7L612.0,109.9L611.8,110.1L611.5,110.2L611.2,110.5L610.8,110.8L610.5,111.0L610.2,111.2L610.0,111.3L609.7,111.5L609.2,111.7L609.0,111.8L608.6,112.0L608.2,112.1L607.9,112.2L607.5,112.4L607.0,112.5L606.8,112.5ZM606.2,112.0L605.8,112.1L605.2,112.1L604.8,112.1L604.2,112.1L603.8,112.0L603.5,112.0L603.0,111.9L602.5,111.8L602.2,111.7L601.8,111.5L601.5,111.4L601.1,111.2L600.8,111.1L600.5,110.9L600.2,110.8L599.8,110.5L599.5,110.4L599.2,110.2L598.9,110.0L598.5,109.8L598.2,109.5L598.0,109.3L597.8,109.1L597.5,108.9L597.2,108.6L597.0,108.3L596.8,108.0L596.6,107.8L596.4,107.5L596.2,107.2L596.0,106.9L595.8,106.5L595.7,106.2L595.5,105.8L595.4,105.5L595.3,105.0L595.2,104.6L595.2,104.2L595.2,103.8L595.2,103.2L595.2,102.8L595.2,102.4L595.3,102.0L595.4,101.5L595.5,101.2L595.7,100.8L595.8,100.5L596.0,100.1L596.2,99.8L596.4,99.5L596.6,99.2L596.8,99.0L597.0,98.6L597.2,98.2L597.4,98.0L597.6,97.8L597.8,97.5L598.0,97.2L598.2,96.9L598.5,96.6L598.8,96.4L599.0,96.1L599.2,95.9L599.5,95.6L599.8,95.4L600.0,95.2L600.2,94.9L600.5,94.7L600.8,94.4L601.0,94.2L601.2,94.0L601.5,93.7L601.8,93.5L602.0,93.2L602.3,93.0L602.5,92.8L602.8,92.5L603.1,92.2L603.3,92.0L603.6,91.8L603.8,91.5L604.1,91.2L604.4,91.0L604.6,90.8L604.9,90.5L605.2,90.2L605.4,90.0L605.7,89.8L606.0,89.5L606.2,89.2L606.5,89.0L606.8,88.8L607.0,88.5L607.2,88.3L607.5,88.1L607.8,87.9L608.0,87.6L608.2,87.4L608.5,87.1L608.8,86.9L609.0,86.5L609.2,86.2L609.4,86.0L609.6,85.8L609.8,85.5L610.0,85.2L610.2,85.0L610.5,84.7L610.8,84.4L611.0,84.0L611.2,83.8L611.4,83.5L611.6,83.2L611.8,83.0L612.0,82.8L612.2,82.5L612.5,82.1L612.8,81.8L613.0,81.5L613.2,81.2L613.4,81.0L613.6,80.8L613.8,80.5L614.0,80.0L614.1,79.8L614.2,79.4L614.4,79.0L614.5,78.8L614.7,78.2L614.9,78.0L615.0,77.7L615.2,77.2L615.3,77.0L615.5,76.5L615.6,76.2L615.8,76.0L616.0,75.5L616.1,75.2L616.2,74.8L616.4,74.5L616.5,74.2L616.7,73.8L616.8,73.5L617.0,73.1L617.2,72.8L617.3,72.5L617.5,72.0L617.5,71.8L617.7,71.2L617.8,70.9L617.9,70.5L618.0,70.0L618.0,69.8L618.2,69.2L618.2,68.9L618.4,68.5L618.5,68.0L618.6,67.8L618.7,67.2L618.8,67.0L618.9,66.5L619.0,66.1L619.1,65.8L619.2,65.2L619.3,65.0L619.5,64.5L619.5,64.2L619.7,63.8L619.8,63.5L619.9,63.0L620.0,62.6L620.1,62.2L620.2,61.8L620.4,61.5L620.5,61.0L620.6,60.8L620.8,60.3L620.8,60.0L621.0,59.5L621.1,59.2L621.2,58.8L621.4,58.5L621.5,58.1L621.6,57.8L621.8,57.4L621.9,57.0L622.0,56.7L622.2,56.2L622.3,56.0L622.5,55.5L622.6,55.2L622.8,54.9L622.9,54.5L623.1,54.2L623.2,53.9L623.4,53.5L623.6,53.2L623.8,52.9L624.0,52.5L624.1,52.2L624.3,52.0L624.5,51.7L624.8,51.4L625.0,51.1L625.2,51.0L625.8,50.8L626.2,51.0L626.5,51.2L626.7,51.5L626.8,51.8L627.0,52.2L627.1,52.5L627.2,53.0L627.3,53.2L627.4,53.8L627.5,54.2L627.5,54.5L627.6,55.0L627.6,55.5L627.7,56.0L627.7,56.5L627.7,57.0L627.7,57.5L627.7,58.0L627.8,58.3L627.8,58.8L627.8,59.2L627.8,59.8L627.8,60.2L627.7,60.5L627.7,61.0L627.7,61.5L627.7,62.0L627.7,62.5L627.7,63.0L627.6,63.5L627.6,64.0L627.6,64.5L627.6,65.0L627.5,65.5L627.5,66.0L627.5,66.2L627.5,66.8L627.4,67.2L627.4,67.8L627.3,68.2L627.3,68.8L627.3,69.2L627.2,69.5L627.2,70.0L627.1,70.5L627.1,71.0L627.0,71.5L627.0,72.0L627.0,72.2L626.9,72.8L626.9,73.2L626.8,73.8L626.8,74.2L626.7,74.5L626.6,75.0L626.5,75.5L626.5,75.8L626.3,76.2L626.2,76.7L626.2,77.0L626.1,77.5L626.0,77.8L625.9,78.2L625.8,78.8L625.7,79.0L625.6,79.5L625.5,80.0L625.4,80.2L625.3,80.8L625.2,81.1L625.2,81.5L625.0,82.0L625.0,82.2L624.9,82.8L624.8,83.2L624.7,83.5L624.6,84.0L624.5,84.3L624.4,84.8L624.3,85.2L624.3,85.8L624.2,86.0L624.2,86.5L624.1,87.0L624.0,87.5L624.0,87.8L623.9,88.2L623.8,88.8L623.8,89.2L623.7,89.5L623.7,90.0L623.6,90.5L623.5,91.0L623.5,91.2L623.4,91.8L623.4,92.2L623.3,92.8L623.2,93.1L623.2,93.5L623.1,94.0L623.1,94.5L623.0,94.8L622.9,95.2L622.8,95.7L622.6,96.0L622.5,96.3L622.3,96.8L622.2,97.0L622.0,97.3L621.8,97.7L621.6,98.0L621.4,98.2L621.2,98.5L621.0,98.8L620.7,99.0L620.5,99.3L620.2,99.6L620.0,99.9L619.8,100.1L619.5,100.4L619.2,100.7L619.0,101.0L618.8,101.2L618.6,101.5L618.3,101.8L618.1,102.0L617.9,102.2L617.7,102.5L617.5,102.8L617.2,103.0L617.0,103.3L616.8,103.6L616.5,103.8L616.2,104.1L616.0,104.4L615.8,104.7L615.5,105.0L615.2,105.2L615.0,105.5L614.8,105.8L614.6,106.0L614.3,106.2L614.2,106.5L614.0,106.9L613.8,107.2L613.6,107.5L613.4,107.8L613.2,108.0L613.0,108.3L612.8,108.6L612.5,108.9L612.2,109.1L612.0,109.3L611.8,109.5L611.5,109.8L611.1,110.0L610.8,110.2L610.5,110.4L610.2,110.5L609.8,110.8L609.5,110.9L609.2,111.1L608.9,111.2L608.5,111.4L608.2,111.5L607.8,111.7L607.5,111.8L607.0,111.9L606.5,112.0L606.2,112.0ZM606.8,111.3L606.2,111.4L605.8,111.4L605.2,111.5L604.8,111.5L604.2,111.4L603.8,111.4L603.2,111.3L603.0,111.2L602.5,111.1L602.1,111.0L601.8,110.9L601.3,110.8L601.0,110.6L600.7,110.5L600.2,110.3L600.0,110.2L599.7,110.0L599.3,109.8L599.0,109.6L598.8,109.4L598.5,109.2L598.2,109.0L598.0,108.7L597.8,108.5L597.5,108.2L597.2,107.9L597.0,107.6L596.8,107.2L596.6,107.0L596.5,106.8L596.2,106.3L596.1,106.0L596.0,105.7L595.9,105.2L595.8,104.8L595.7,104.5L595.7,104.0L595.6,103.5L595.7,103.0L595.7,102.5L595.8,102.2L595.9,101.8L596.0,101.3L596.1,101.0L596.2,100.7L596.5,100.2L596.6,100.0L596.8,99.8L597.0,99.4L597.2,99.1L597.5,98.8L597.8,98.5L598.0,98.2L598.2,98.0L598.3,97.8L598.5,97.5L598.8,97.2L599.0,97.0L599.3,96.8L599.5,96.5L599.8,96.2L600.1,96.0L600.3,95.8L600.6,95.5L600.9,95.2L601.1,95.0L601.4,94.8L601.7,94.5L601.9,94.2L602.2,94.0L602.5,93.8L602.7,93.5L603.0,93.2L603.2,93.0L603.5,92.8L603.8,92.5L604.0,92.3L604.2,92.1L604.5,91.9L604.8,91.6L605.0,91.4L605.2,91.2L605.5,90.9L605.8,90.7L606.0,90.5L606.2,90.2L606.5,90.0L606.8,89.8L607.1,89.5L607.3,89.2L607.6,89.0L607.9,88.8L608.2,88.5L608.5,88.2L608.7,88.0L609.0,87.8L609.2,87.5L609.4,87.2L609.6,87.0L609.8,86.8L610.0,86.5L610.2,86.2L610.5,85.9L610.8,85.6L611.0,85.3L611.2,85.0L611.4,84.8L611.6,84.5L611.8,84.2L612.0,84.0L612.2,83.7L612.5,83.3L612.8,83.0L613.0,82.8L613.1,82.5L613.3,82.2L613.5,82.0L613.8,81.7L614.0,81.4L614.2,81.1L614.5,80.8L614.6,80.5L614.8,80.1L614.9,79.8L615.0,79.5L615.2,79.0L615.4,78.8L615.5,78.4L615.7,78.0L615.8,77.8L616.0,77.3L616.1,77.0L616.3,76.8L616.5,76.2L616.6,76.0L616.8,75.7L617.0,75.2L617.1,75.0L617.2,74.6L617.4,74.2L617.5,74.0L617.8,73.5L617.9,73.2L618.0,73.0L618.2,72.5L618.4,72.2L618.5,71.8L618.6,71.5L618.7,71.0L618.8,70.8L618.9,70.2L619.0,70.0L619.1,69.5L619.2,69.1L619.4,68.8L619.5,68.3L619.6,68.0L619.8,67.5L619.8,67.2L620.0,66.8L620.1,66.5L620.2,66.0L620.4,65.8L620.5,65.3L620.6,65.0L620.8,64.6L620.9,64.2L621.0,64.0L621.2,63.5L621.3,63.2L621.5,62.8L621.6,62.5L621.8,62.1L621.9,61.8L622.0,61.5L622.2,61.1L622.4,60.8L622.6,60.5L622.8,60.2L623.0,59.8L623.2,59.5L623.4,59.2L623.6,59.0L623.8,58.8L624.2,58.5L624.5,58.4L624.9,58.5L625.2,58.8L625.3,59.0L625.5,59.3L625.6,59.8L625.8,60.1L625.8,60.5L625.9,61.0L626.0,61.5L626.0,61.8L626.1,62.2L626.1,62.8L626.2,63.2L626.2,63.8L626.2,64.2L626.2,64.8L626.2,65.2L626.2,65.8L626.2,66.2L626.2,66.8L626.2,67.2L626.2,67.8L626.2,68.2L626.2,68.8L626.2,69.2L626.2,69.8L626.1,70.2L626.1,70.8L626.1,71.2L626.0,71.8L626.0,72.2L626.0,72.5L626.0,73.0L625.9,73.5L625.9,74.0L625.8,74.5L625.8,74.9L625.7,75.2L625.6,75.8L625.5,76.1L625.4,76.5L625.3,77.0L625.2,77.4L625.2,77.8L625.1,78.2L625.0,78.6L624.9,79.0L624.8,79.5L624.8,79.8L624.7,80.2L624.5,80.8L624.5,81.0L624.4,81.5L624.3,82.0L624.2,82.2L624.1,82.8L624.0,83.2L623.9,83.5L623.8,84.0L623.8,84.4L623.7,84.8L623.6,85.2L623.5,85.8L623.5,86.0L623.4,86.5L623.3,87.0L623.3,87.5L623.2,87.8L623.1,88.2L623.1,88.8L623.0,89.2L623.0,89.5L622.9,90.0L622.8,90.5L622.8,91.0L622.7,91.2L622.6,91.8L622.6,92.2L622.5,92.8L622.5,93.0L622.4,93.5L622.3,94.0L622.3,94.5L622.2,94.8L622.1,95.2L622.0,95.5L621.8,96.0L621.7,96.2L621.5,96.6L621.3,97.0L621.1,97.2L620.9,97.5L620.8,97.8L620.5,98.1L620.2,98.4L620.0,98.7L619.8,99.0L619.5,99.2L619.3,99.5L619.1,99.8L618.9,100.0L618.7,100.2L618.4,100.5L618.2,100.8L618.0,101.0L617.8,101.3L617.5,101.6L617.2,101.9L617.0,102.2L616.8,102.5L616.5,102.8L616.3,103.0L616.1,103.2L615.9,103.5L615.6,103.8L615.4,104.0L615.2,104.2L615.0,104.5L614.8,104.8L614.5,105.1L614.2,105.3L614.0,105.7L613.9,106.0L613.8,106.3L613.5,106.8L613.4,107.0L613.2,107.2L613.0,107.6L612.8,107.9L612.5,108.2L612.2,108.5L612.0,108.7L611.8,109.0L611.5,109.2L611.2,109.4L611.0,109.6L610.7,109.8L610.3,110.0L610.0,110.2L609.8,110.3L609.3,110.5L609.0,110.6L608.7,110.8L608.2,110.9L607.9,111.0L607.5,111.1L607.0,111.2L606.8,111.3ZM607.0,110.8L606.5,110.9L606.0,110.9L605.5,111.0L605.0,111.0L604.5,111.0L604.0,110.9L603.5,110.9L603.0,110.8L602.8,110.7L602.2,110.6L601.9,110.5L601.5,110.4L601.2,110.2L600.8,110.1L600.5,109.9L600.1,109.8L599.8,109.5L599.5,109.4L599.2,109.2L599.0,109.0L598.7,108.8L598.4,108.5L598.2,108.2L597.9,108.0L597.7,107.8L597.5,107.5L597.2,107.1L597.0,106.8L596.9,106.5L596.8,106.2L596.5,105.8L596.5,105.5L596.3,105.0L596.2,104.7L596.2,104.2L596.1,103.8L596.1,103.2L596.2,102.8L596.2,102.3L596.3,102.0L596.5,101.5L596.5,101.2L596.8,100.8L596.9,100.5L597.0,100.2L597.2,99.9L597.5,99.5L597.7,99.2L597.9,99.0L598.2,98.8L598.4,98.5L598.7,98.2L599.0,98.0L599.2,97.8L599.5,97.5L599.7,97.2L600.0,97.0L600.2,96.8L600.5,96.5L600.8,96.3L601.0,96.1L601.2,95.9L601.5,95.6L601.8,95.4L602.0,95.2L602.2,94.9L602.5,94.7L602.8,94.5L603.0,94.2L603.3,94.0L603.6,93.8L603.8,93.5L604.1,93.2L604.4,93.0L604.7,92.8L604.9,92.5L605.2,92.2L605.5,92.0L605.8,91.8L606.0,91.5L606.2,91.3L606.5,91.1L606.8,90.9L607.0,90.7L607.2,90.4L607.5,90.2L607.8,90.0L608.0,89.8L608.3,89.5L608.6,89.2L608.9,89.0L609.2,88.8L609.5,88.5L609.7,88.2L609.9,88.0L610.1,87.8L610.3,87.5L610.5,87.2L610.8,87.0L611.0,86.7L611.2,86.3L611.5,86.0L611.7,85.8L611.9,85.5L612.1,85.2L612.3,85.0L612.5,84.7L612.8,84.4L613.0,84.1L613.2,83.8L613.4,83.5L613.6,83.2L613.8,83.0L614.0,82.8L614.2,82.4L614.5,82.1L614.8,81.8L615.0,81.5L615.1,81.2L615.3,81.0L615.5,80.5L615.6,80.2L615.8,80.0L616.0,79.5L616.1,79.2L616.2,78.9L616.5,78.5L616.6,78.2L616.8,77.9L617.0,77.5L617.1,77.2L617.2,76.9L617.5,76.5L617.6,76.2L617.8,75.9L618.0,75.5L618.1,75.2L618.2,74.9L618.5,74.5L618.6,74.2L618.8,74.0L619.0,73.5L619.1,73.2L619.3,73.0L619.5,72.5L619.6,72.2L619.8,71.8L619.9,71.5L620.0,71.2L620.2,70.8L620.3,70.5L620.5,70.0L620.6,69.8L620.8,69.3L620.9,69.0L621.0,68.8L621.2,68.3L621.4,68.0L621.5,67.8L621.8,67.4L622.0,67.0L622.2,66.8L622.4,66.5L622.7,66.2L623.0,66.1L623.5,66.1L623.8,66.3L624.0,66.7L624.1,67.0L624.2,67.4L624.3,67.8L624.4,68.2L624.5,68.6L624.6,69.0L624.6,69.5L624.6,70.0L624.7,70.5L624.7,71.0L624.7,71.5L624.7,72.0L624.7,72.5L624.7,73.0L624.7,73.5L624.7,74.0L624.7,74.5L624.6,75.0L624.5,75.5L624.5,75.8L624.4,76.2L624.3,76.8L624.2,77.1L624.2,77.5L624.1,78.0L624.0,78.5L624.0,78.8L623.9,79.2L623.8,79.8L623.8,80.0L623.7,80.5L623.6,81.0L623.5,81.3L623.4,81.8L623.3,82.2L623.2,82.6L623.2,83.0L623.1,83.5L623.0,83.9L622.9,84.2L622.8,84.8L622.8,85.2L622.7,85.5L622.6,86.0L622.6,86.5L622.5,86.9L622.4,87.2L622.4,87.8L622.3,88.2L622.2,88.5L622.2,89.0L622.1,89.5L622.0,90.0L622.0,90.2L621.9,90.8L621.8,91.2L621.8,91.8L621.7,92.0L621.7,92.5L621.6,93.0L621.5,93.5L621.5,93.8L621.4,94.2L621.3,94.8L621.2,95.0L621.0,95.5L620.9,95.8L620.8,96.1L620.6,96.5L620.4,96.8L620.2,97.0L620.0,97.3L619.8,97.6L619.5,97.9L619.2,98.2L619.0,98.5L618.8,98.8L618.6,99.0L618.4,99.2L618.2,99.5L618.0,99.8L617.8,100.1L617.5,100.4L617.2,100.7L617.0,101.0L616.8,101.2L616.5,101.5L616.3,101.8L616.1,102.0L615.9,102.2L615.7,102.5L615.5,102.8L615.2,103.0L615.0,103.3L614.8,103.6L614.5,103.9L614.2,104.2L614.0,104.5L613.8,104.8L613.7,105.0L613.5,105.5L613.5,105.8L613.2,106.2L613.1,106.5L613.0,106.8L612.8,107.1L612.5,107.5L612.3,107.8L612.1,108.0L611.8,108.2L611.6,108.5L611.3,108.8L611.0,109.0L610.8,109.2L610.5,109.4L610.2,109.5L609.9,109.8L609.5,109.9L609.2,110.1L608.8,110.2L608.5,110.4L608.1,110.5L607.8,110.6L607.2,110.7L607.0,110.8ZM605.5,110.5L605.0,110.5L604.5,110.5L604.2,110.5L603.8,110.4L603.2,110.4L602.8,110.3L602.5,110.2L602.0,110.1L601.8,110.0L601.2,109.8L601.0,109.7L600.7,109.5L600.2,109.3L600.0,109.1L599.8,109.0L599.5,108.8L599.1,108.5L598.9,108.2L598.6,108.0L598.4,107.8L598.1,107.5L598.0,107.2L597.8,107.0L597.5,106.6L597.3,106.2L597.2,106.0L597.0,105.5L596.9,105.2L596.8,104.8L596.7,104.5L596.7,104.0L596.7,103.5L596.7,103.0L596.7,102.5L596.8,102.2L596.9,101.8L597.0,101.5L597.2,101.0L597.3,100.8L597.5,100.4L597.8,100.0L598.0,99.8L598.1,99.5L598.4,99.2L598.6,99.0L598.9,98.8L599.1,98.5L599.5,98.2L599.8,98.0L600.0,97.9L600.2,97.7L600.6,97.5L600.9,97.2L601.1,97.0L601.4,96.8L601.7,96.5L602.0,96.2L602.2,96.0L602.5,95.8L602.8,95.6L603.0,95.3L603.2,95.1L603.5,94.9L603.8,94.7L604.0,94.5L604.2,94.2L604.5,94.0L604.8,93.8L605.1,93.5L605.4,93.2L605.7,93.0L606.0,92.8L606.2,92.5L606.5,92.3L606.8,92.1L607.0,91.9L607.2,91.6L607.5,91.4L607.8,91.2L608.0,91.0L608.3,90.8L608.6,90.5L608.9,90.2L609.2,90.0L609.5,89.8L609.8,89.5L610.0,89.3L610.2,89.1L610.5,88.9L610.8,88.6L611.0,88.3L611.2,88.0L611.4,87.8L611.6,87.5L611.8,87.2L612.0,87.0L612.2,86.7L612.5,86.4L612.8,86.1L613.0,85.8L613.2,85.5L613.4,85.2L613.6,85.0L613.8,84.8L614.0,84.5L614.2,84.1L614.5,83.8L614.7,83.5L614.9,83.2L615.1,83.0L615.3,82.8L615.5,82.5L615.8,82.2L616.0,81.8L616.2,81.5L616.4,81.2L616.5,81.0L616.7,80.5L616.9,80.2L617.0,80.0L617.2,79.6L617.4,79.2L617.6,79.0L617.8,78.7L618.0,78.3L618.2,78.0L618.3,77.8L618.5,77.4L618.8,77.0L618.9,76.8L619.1,76.5L619.2,76.2L619.5,75.9L619.8,75.5L619.9,75.2L620.1,75.0L620.3,74.8L620.6,74.5L620.8,74.2L621.1,74.0L621.5,73.8L621.8,73.7L622.2,73.8L622.4,74.0L622.5,74.3L622.6,74.8L622.7,75.2L622.7,75.8L622.7,76.2L622.7,76.8L622.7,77.2L622.7,77.8L622.6,78.2L622.6,78.8L622.6,79.2L622.5,79.8L622.5,80.0L622.4,80.5L622.4,81.0L622.3,81.5L622.2,81.8L622.2,82.2L622.1,82.8L622.0,83.2L622.0,83.5L621.9,84.0L621.8,84.5L621.8,85.0L621.7,85.2L621.6,85.8L621.6,86.2L621.5,86.7L621.4,87.0L621.4,87.5L621.3,88.0L621.2,88.3L621.2,88.8L621.1,89.2L621.0,89.8L621.0,90.0L620.9,90.5L620.9,91.0L620.8,91.5L620.7,91.8L620.7,92.2L620.6,92.8L620.5,93.2L620.5,93.6L620.4,94.0L620.3,94.5L620.2,94.8L620.1,95.2L619.9,95.5L619.8,95.9L619.5,96.2L619.3,96.5L619.2,96.8L619.0,97.0L618.8,97.3L618.5,97.6L618.2,97.9L618.0,98.2L617.8,98.5L617.6,98.8L617.4,99.0L617.2,99.2L617.0,99.5L616.8,99.8L616.5,100.1L616.2,100.4L616.0,100.8L615.8,101.0L615.6,101.2L615.4,101.5L615.2,101.8L615.0,102.0L614.8,102.3L614.5,102.6L614.2,102.9L614.0,103.2L613.8,103.5L613.6,103.8L613.4,104.0L613.3,104.5L613.2,104.8L613.1,105.2L613.0,105.5L612.8,106.0L612.7,106.2L612.5,106.6L612.2,107.0L612.0,107.2L611.9,107.5L611.6,107.8L611.4,108.0L611.1,108.2L610.9,108.5L610.5,108.8L610.2,109.0L610.0,109.1L609.8,109.3L609.3,109.5L609.0,109.7L608.8,109.8L608.2,110.0L608.0,110.1L607.5,110.2L607.2,110.3L606.8,110.4L606.2,110.4L605.8,110.5L605.5,110.5ZM605.8,110.0L605.2,110.0L604.8,110.0L604.2,110.0L604.0,110.0L603.5,109.9L603.0,109.8L602.7,109.8L602.2,109.6L601.9,109.5L601.5,109.3L601.2,109.2L600.8,109.0L600.5,108.8L600.2,108.7L600.0,108.5L599.7,108.2L599.4,108.0L599.1,107.8L598.8,107.5L598.6,107.2L598.4,107.0L598.2,106.7L598.0,106.3L597.8,106.0L597.7,105.8L597.5,105.2L597.4,105.0L597.3,104.5L597.2,104.0L597.2,103.8L597.2,103.2L597.2,103.0L597.3,102.5L597.4,102.0L597.5,101.8L597.7,101.2L597.8,101.0L598.0,100.7L598.2,100.3L598.4,100.0L598.6,99.8L598.8,99.5L599.1,99.2L599.4,99.0L599.7,98.8L600.0,98.5L600.2,98.3L600.5,98.2L600.8,98.0L601.2,97.8L601.5,97.7L601.9,97.5L602.2,97.2L602.5,97.0L602.7,96.8L603.0,96.5L603.2,96.3L603.5,96.1L603.8,95.9L604.0,95.7L604.2,95.5L604.5,95.2L604.8,95.0L605.1,94.8L605.4,94.5L605.7,94.2L606.0,94.0L606.2,93.8L606.5,93.6L606.8,93.4L607.0,93.2L607.2,93.0L607.5,92.8L607.9,92.5L608.2,92.2L608.5,92.0L608.8,91.8L609.0,91.6L609.2,91.4L609.5,91.2L609.8,91.0L610.1,90.8L610.4,90.5L610.7,90.2L611.0,90.0L611.2,89.8L611.5,89.6L611.8,89.3L612.0,89.0L612.2,88.8L612.4,88.5L612.6,88.2L612.9,88.0L613.1,87.8L613.3,87.5L613.5,87.2L613.8,86.9L614.0,86.6L614.2,86.3L614.5,86.0L614.7,85.8L614.9,85.5L615.1,85.2L615.3,85.0L615.5,84.8L615.8,84.5L616.0,84.2L616.2,83.9L616.5,83.6L616.8,83.4L617.0,83.1L617.2,82.8L617.5,82.6L617.8,82.3L618.0,82.0L618.2,81.8L618.5,81.5L618.7,81.2L619.0,81.1L619.2,81.0L619.6,81.0L619.9,81.2L620.0,81.5L620.2,82.0L620.2,82.3L620.3,82.8L620.3,83.2L620.3,83.8L620.3,84.2L620.3,84.8L620.2,85.0L620.2,85.5L620.1,86.0L620.1,86.5L620.0,87.0L620.0,87.4L620.0,87.8L619.9,88.2L619.8,88.8L619.8,89.2L619.8,89.6L619.7,90.0L619.6,90.5L619.6,91.0L619.5,91.5L619.5,91.8L619.4,92.2L619.4,92.8L619.3,93.2L619.2,93.6L619.2,94.0L619.0,94.5L618.9,94.8L618.8,95.1L618.5,95.5L618.4,95.8L618.2,96.0L618.0,96.3L617.8,96.6L617.5,97.0L617.3,97.2L617.1,97.5L617.0,97.8L616.8,98.0L616.5,98.4L616.2,98.7L616.0,99.0L615.8,99.2L615.7,99.5L615.5,99.8L615.2,100.0L615.0,100.4L614.8,100.7L614.5,101.0L614.3,101.2L614.1,101.5L613.9,101.8L613.7,102.0L613.5,102.3L613.2,102.6L613.0,102.9L612.8,103.2L612.8,103.8L612.8,104.0L612.7,104.5L612.6,105.0L612.5,105.2L612.3,105.8L612.2,106.0L612.0,106.3L611.8,106.7L611.6,107.0L611.4,107.2L611.2,107.5L610.9,107.8L610.6,108.0L610.3,108.2L610.0,108.5L609.8,108.7L609.5,108.8L609.2,109.0L608.8,109.2L608.5,109.3L608.1,109.5L607.8,109.6L607.3,109.8L607.0,109.8L606.5,109.9L606.0,110.0L605.8,110.0ZM605.5,109.5L605.0,109.5L604.5,109.5L604.2,109.5L603.8,109.4L603.2,109.3L602.8,109.2L602.5,109.2L602.1,109.0L601.8,108.9L601.5,108.8L601.0,108.5L600.8,108.4L600.5,108.2L600.2,108.0L599.9,107.8L599.6,107.5L599.4,107.2L599.2,107.0L599.0,106.8L598.8,106.4L598.5,106.0L598.4,105.8L598.2,105.5L598.1,105.0L598.0,104.8L597.9,104.2L597.8,103.8L597.8,103.2L597.9,102.8L598.0,102.2L598.1,102.0L598.2,101.5L598.4,101.2L598.5,101.0L598.8,100.6L599.0,100.2L599.2,100.0L599.4,99.8L599.6,99.5L599.9,99.2L600.2,99.0L600.5,98.8L600.8,98.6L601.0,98.5L601.5,98.2L601.8,98.1L602.1,98.0L602.5,97.8L602.8,97.8L603.2,97.6L603.5,97.5L603.8,97.2L604.1,97.0L604.4,96.8L604.7,96.5L605.0,96.3L605.2,96.1L605.5,95.9L605.8,95.7L606.0,95.5L606.3,95.2L606.7,95.0L607.0,94.8L607.2,94.6L607.5,94.4L607.8,94.2L608.0,94.0L608.3,93.8L608.7,93.5L609.0,93.3L609.2,93.1L609.5,92.9L609.8,92.8L610.1,92.5L610.5,92.2L610.8,92.1L611.0,91.9L611.2,91.7L611.6,91.5L612.0,91.3L612.2,91.1L612.5,90.9L612.8,90.8L613.1,90.5L613.3,90.2L613.6,90.0L613.9,89.8L614.1,89.5L614.4,89.2L614.7,89.0L615.0,88.8L615.2,88.6L615.5,88.4L615.8,88.2L616.2,88.0L616.8,88.0L617.1,88.2L617.2,88.5L617.4,89.0L617.5,89.3L617.6,89.8L617.6,90.2L617.6,90.8L617.6,91.2L617.6,91.8L617.6,92.2L617.6,92.8L617.6,93.2L617.5,93.7L617.4,94.0L617.2,94.3L617.0,94.8L616.9,95.0L616.8,95.3L616.5,95.7L616.3,96.0L616.2,96.2L616.0,96.5L615.8,96.9L615.5,97.2L615.4,97.5L615.2,97.8L615.0,98.1L614.8,98.5L614.6,98.8L614.4,99.0L614.2,99.2L614.0,99.6L613.8,99.9L613.5,100.2L613.4,100.5L613.2,100.8L613.0,101.0L612.8,101.4L612.5,101.7L612.3,102.0L612.1,102.2L612.1,102.8L612.2,103.2L612.2,103.8L612.1,104.2L612.0,104.8L611.9,105.0L611.8,105.5L611.6,105.8L611.5,106.0L611.2,106.4L611.0,106.8L610.8,107.0L610.6,107.2L610.4,107.5L610.1,107.8L609.8,108.0L609.5,108.2L609.2,108.4L609.0,108.5L608.5,108.8L608.2,108.9L607.9,109.0L607.5,109.2L607.2,109.2L606.8,109.3L606.2,109.4L605.8,109.5L605.5,109.5ZM606.8,108.8L606.2,108.9L605.8,108.9L605.2,109.0L604.8,109.0L604.2,108.9L603.8,108.9L603.2,108.8L603.0,108.7L602.5,108.5L602.2,108.5L601.8,108.2L601.5,108.1L601.2,108.0L600.9,107.8L600.6,107.5L600.3,107.2L600.0,107.0L599.8,106.8L599.6,106.5L599.4,106.2L599.2,106.0L599.0,105.6L598.8,105.2L598.8,105.0L598.6,104.5L598.5,104.0L598.5,103.5L598.5,103.0L598.6,102.5L598.8,102.0L598.8,101.8L599.0,101.4L599.2,101.0L599.4,100.8L599.6,100.5L599.8,100.2L600.0,100.0L600.3,99.8L600.6,99.5L600.9,99.2L601.2,99.0L601.5,98.9L601.8,98.8L602.2,98.5L602.5,98.5L603.0,98.3L603.2,98.2L603.8,98.1L604.2,98.1L604.8,98.0L605.0,98.0L605.4,97.8L605.8,97.5L606.0,97.3L606.2,97.2L606.5,97.0L606.9,96.8L607.2,96.5L607.5,96.4L607.8,96.2L608.1,96.0L608.5,95.8L608.8,95.7L609.0,95.5L609.5,95.3L609.8,95.1L610.1,95.0L610.5,94.8L610.8,94.7L611.2,94.5L611.5,94.5L612.0,94.4L612.5,94.4L613.0,94.5L613.2,94.8L613.3,95.0L613.4,95.5L613.4,96.0L613.3,96.5L613.2,96.8L613.0,97.2L612.9,97.5L612.8,97.9L612.6,98.2L612.5,98.5L612.2,99.0L612.1,99.2L612.0,99.5L611.8,99.9L611.6,100.2L611.4,100.5L611.2,100.8L611.0,101.2L611.0,101.3L611.2,101.8L611.2,102.0L611.4,102.5L611.5,103.0L611.5,103.5L611.5,104.0L611.4,104.5L611.2,105.0L611.2,105.2L611.0,105.6L610.8,106.0L610.6,106.2L610.4,106.5L610.2,106.8L610.0,107.0L609.7,107.2L609.4,107.5L609.1,107.8L608.8,108.0L608.5,108.1L608.2,108.2L607.8,108.5L607.5,108.5L607.0,108.7L606.8,108.8ZM606.0,108.3L605.5,108.3L605.0,108.3L604.5,108.3L604.0,108.3L603.8,108.2L603.2,108.1L602.9,108.0L602.5,107.9L602.2,107.8L601.8,107.5L601.5,107.3L601.2,107.2L601.0,107.0L600.7,106.8L600.5,106.5L600.2,106.2L600.0,105.9L599.8,105.5L599.6,105.2L599.5,104.9L599.4,104.5L599.3,104.0L599.2,103.6L599.2,103.4L599.3,103.0L599.4,102.5L599.5,102.1L599.6,101.8L599.8,101.5L600.0,101.1L600.2,100.8L600.5,100.5L600.7,100.2L601.0,100.0L601.2,99.8L601.5,99.7L601.8,99.5L602.2,99.2L602.5,99.1L602.9,99.0L603.2,98.9L603.8,98.8L604.0,98.7L604.5,98.7L605.0,98.7L605.5,98.7L606.0,98.7L606.2,98.8L606.8,98.9L607.1,99.0L607.5,99.1L607.8,99.2L608.2,99.5L608.5,99.6L608.8,99.8L609.0,100.0L609.3,100.2L609.5,100.5L609.8,100.8L610.0,101.1L610.2,101.5L610.4,101.8L610.5,102.1L610.6,102.5L610.7,103.0L610.8,103.4L610.8,103.6L610.7,104.0L610.6,104.5L610.5,104.9L610.4,105.2L610.2,105.5L610.0,105.9L609.8,106.2L609.5,106.5L609.3,106.8L609.0,107.0L608.8,107.2L608.5,107.3L608.2,107.5L607.8,107.8L607.5,107.9L607.1,108.0L606.8,108.1L606.2,108.2L606.0,108.3ZM606.0,107.5L605.5,107.6L605.0,107.6L604.5,107.6L604.0,107.5L603.8,107.5L603.2,107.4L603.0,107.2L602.5,107.0L602.2,106.9L602.0,106.8L601.6,106.5L601.4,106.2L601.1,106.0L600.9,105.8L600.7,105.5L600.5,105.1L600.3,104.8L600.2,104.5L600.1,104.0L600.1,103.5L600.1,103.0L600.2,102.5L600.3,102.2L600.5,101.9L600.7,101.5L600.9,101.2L601.1,101.0L601.4,100.8L601.6,100.5L602.0,100.2L602.2,100.1L602.5,100.0L603.0,99.8L603.2,99.6L603.8,99.5L604.0,99.5L604.5,99.4L605.0,99.4L605.5,99.4L606.0,99.5L606.2,99.5L606.8,99.6L607.0,99.8L607.5,100.0L607.8,100.1L608.0,100.2L608.4,100.5L608.6,100.8L608.9,101.0L609.1,101.2L609.3,101.5L609.5,101.9L609.7,102.2L609.8,102.5L609.9,103.0L609.9,103.5L609.9,104.0L609.8,104.5L609.7,104.8L609.5,105.1L609.3,105.5L609.1,105.8L608.9,106.0L608.6,106.2L608.4,106.5L608.0,106.8L607.8,106.9L607.5,107.0L607.0,107.2L606.8,107.4L606.2,107.5L606.0,107.5ZM606.2,106.6L605.8,106.7L605.2,106.7L604.8,106.7L604.2,106.7L603.8,106.6L603.5,106.5L603.0,106.3L602.8,106.1L602.5,106.0L602.2,105.8L602.0,105.5L601.7,105.2L601.5,104.9L601.3,104.5L601.2,104.2L601.2,103.8L601.2,103.2L601.2,102.8L601.3,102.5L601.5,102.1L601.7,101.8L602.0,101.5L602.2,101.2L602.5,101.0L602.8,100.9L603.0,100.7L603.5,100.5L603.8,100.4L604.2,100.3L604.8,100.3L605.2,100.3L605.8,100.3L606.2,100.4L606.5,100.5L607.0,100.7L607.2,100.9L607.5,101.0L607.8,101.2L608.0,101.5L608.3,101.8L608.5,102.1L608.7,102.5L608.8,102.8L608.8,103.2L608.8,103.8L608.8,104.2L608.7,104.5L608.5,104.9L608.3,105.2L608.0,105.5L607.8,105.8L607.5,106.0L607.2,106.1L607.0,106.3L606.5,106.5L606.2,106.6ZM605.2,105.5L604.8,105.5L604.5,105.5L604.0,105.3L603.8,105.2L603.4,105.0L603.1,104.8L602.9,104.5L602.8,104.2L602.6,103.8L602.6,103.2L602.8,102.8L602.9,102.5L603.1,102.2L603.4,102.0L603.8,101.8L604.0,101.7L604.5,101.5L604.8,101.5L605.2,101.5L605.5,101.5L606.0,101.7L606.2,101.8L606.6,102.0L606.9,102.2L607.1,102.5L607.2,102.8L607.4,103.2L607.4,103.8L607.2,104.2L607.1,104.5L606.9,104.8L606.6,105.0L606.2,105.2L606.0,105.3L605.5,105.5L605.2,105.5Z" stroke="#222" stroke-width="0.5" fill="none"/>
<text x="650.5" y="25.9" font-size="11.8" font-weight="bold" font-family="Liberation Sans" fill="#231f20" text-anchor="start" textLength="29.4" lengthAdjust="spacingAndGlyphs">2.36%</text>
<path d="M570.4,118.8V21" stroke="#231f20" stroke-width="2.6"/>
<path d="M566.4,22.8L570.4,14.8L574.4,22.8Z" fill="#231f20"/>
<g transform="translate(564.7,116.8) rotate(-90)"><text x="0" y="0" font-size="16.3" font-weight="normal" font-family="Liberation Sans" fill="#231f20" text-anchor="start" textLength="38.4" lengthAdjust="spacingAndGlyphs" stroke="#231f20" stroke-width="0.3">SSC-A</text></g>
<text x="547.8" y="140.3" font-size="18" font-weight="bold" font-family="Liberation Sans" fill="#231f20" text-anchor="start" textLength="17" lengthAdjust="spacingAndGlyphs" stroke="#231f20" stroke-width="0.35">D.</text>
<rect x="587.2" y="132.7" width="97.0" height="104.5" fill="none" stroke="#8a8a8a" stroke-width="0.8"/>
<path d="M587.2,132.7V237.2H684.2" fill="none" stroke="#444" stroke-width="0.8"/>
<text x="583.0" y="138.9" font-size="3.9" font-weight="normal" font-family="Liberation Sans" fill="#222" text-anchor="end">250K</text>
<path d="M584.7,137.1H587.2" stroke="#555" stroke-width="0.5"/>
<text x="583.0" y="158.9" font-size="3.9" font-weight="normal" font-family="Liberation Sans" fill="#222" text-anchor="end">200K</text>
<path d="M584.7,157.1H587.2" stroke="#555" stroke-width="0.5"/>
<text x="583.0" y="178.9" font-size="3.9" font-weight="normal" font-family="Liberation Sans" fill="#222" text-anchor="end">150K</text>
<path d="M584.7,177.1H587.2" stroke="#555" stroke-width="0.5"/>
<text x="583.0" y="199.20000000000002" font-size="3.9" font-weight="normal" font-family="Liberation Sans" fill="#222" text-anchor="end">100K</text>
<path d="M584.7,197.4H587.2" stroke="#555" stroke-width="0.5"/>
<text x="583.0" y="218.4" font-size="3.9" font-weight="normal" font-family="Liberation Sans" fill="#222" text-anchor="end">50K</text>
<path d="M584.7,216.6H587.2" stroke="#555" stroke-width="0.5"/>
<text x="583.0" y="237.70000000000002" font-size="3.9" font-weight="normal" font-family="Liberation Sans" fill="#222" text-anchor="end">0</text>
<path d="M584.7,235.9H587.2" stroke="#555" stroke-width="0.5"/>
<path d="M585.9000000000001,141.1H587.2M585.9000000000001,145.1H587.2M585.9000000000001,149.1H587.2M585.9000000000001,153.1H587.2M585.9000000000001,161.1H587.2M585.9000000000001,165.1H587.2M585.9000000000001,169.1H587.2M585.9000000000001,173.1H587.2M585.9000000000001,181.2H587.2M585.9000000000001,185.2H587.2M585.9000000000001,189.3H587.2M585.9000000000001,193.3H587.2M585.9000000000001,201.2H587.2M585.9000000000001,205.1H587.2M585.9000000000001,208.9H587.2M585.9000000000001,212.8H587.2M585.9000000000001,220.5H587.2M585.9000000000001,224.3H587.2M585.9000000000001,228.2H587.2M585.9000000000001,232.0H587.2" stroke="#666" stroke-width="0.4"/>
<text x="595.4000000000001" y="246.0" font-size="3.9" font-weight="normal" font-family="Liberation Sans" fill="#222" text-anchor="middle">0</text>
<path d="M594.8000000000001,237.2V239.39999999999998" stroke="#444" stroke-width="0.6"/>
<text x="623.0000000000001" y="246.0" font-size="3.9" font-weight="normal" font-family="Liberation Sans" fill="#222" text-anchor="middle">10</text>
<text x="625.2" y="243.79999999999998" font-size="2.8" font-weight="normal" font-family="Liberation Sans" fill="#222" text-anchor="start">3</text>
<path d="M622.4000000000001,237.2V239.39999999999998" stroke="#444" stroke-width="0.6"/>
<text x="647.7" y="246.0" font-size="3.9" font-weight="normal" font-family="Liberation Sans" fill="#222" text-anchor="middle">10</text>
<text x="649.9" y="243.79999999999998" font-size="2.8" font-weight="normal" font-family="Liberation Sans" fill="#222" text-anchor="start">4</text>
<path d="M647.1,237.2V239.39999999999998" stroke="#444" stroke-width="0.6"/>
<text x="672.4000000000001" y="246.0" font-size="3.9" font-weight="normal" font-family="Liberation Sans" fill="#222" text-anchor="middle">10</text>
<text x="674.6" y="243.79999999999998" font-size="2.8" font-weight="normal" font-family="Liberation Sans" fill="#222" text-anchor="start">5</text>
<path d="M671.8000000000001,237.2V239.39999999999998" stroke="#444" stroke-width="0.6"/>
<path d="M589.2,237.2V238.6M590.7,237.2V238.6M591.7,237.2V238.6M592.7,237.2V238.6M593.7,237.2V238.6M596.2,237.2V238.6M597.2,237.2V238.6M599.2,237.2V238.6M601.2,237.2V238.6M604.2,237.2V238.6M607.2,237.2V238.6M611.2,237.2V238.6M615.2,237.2V238.6M618.2,237.2V238.6M620.2,237.2V238.6M622.2,237.2V238.6M632.2,237.2V238.6M637.2,237.2V238.6M640.2,237.2V238.6M642.7,237.2V238.6M644.7,237.2V238.6M646.7,237.2V238.6M657.2,237.2V238.6M662.2,237.2V238.6M665.2,237.2V238.6M667.7,237.2V238.6M669.7,237.2V238.6M671.7,237.2V238.6" stroke="#444" stroke-width="0.45"/>
<path d="M588.4,237.2V239.2M589.4,237.2V239.2M590.2,237.2V239.2M590.9,237.2V239.2M591.5,237.2V239.2M592.1,237.2V239.2M592.8,237.2V239.2M593.6,237.2V239.2M594.5,237.2V239.2M595.5,237.2V239.2M596.7,237.2V239.2" stroke="#222" stroke-width="0.55"/>
<path d="M635.2,221.2h0.6M635.5,206.3h0.6M627.8,208.2h0.6M650.2,219.6h0.6M649.4,216.5h0.6M642.3,215.3h0.6M619.7,227.4h0.6M643.6,221.0h0.6M619.4,180.6h0.6M628.2,203.6h0.6M641.4,211.2h0.6M643.7,200.4h0.6M641.4,219.1h0.6M644.1,233.5h0.6M631.2,198.7h0.6M634.2,210.1h0.6M645.0,216.5h0.6M633.1,194.8h0.6M632.3,234.0h0.6M629.1,216.4h0.6M642.7,185.2h0.6M638.5,235.5h0.6M615.8,206.2h0.6M636.8,197.3h0.6M643.5,210.9h0.6M621.9,226.9h0.6M645.4,229.0h0.6M653.8,218.5h0.6M639.3,188.6h0.6M644.8,201.0h0.6M633.0,189.2h0.6M627.4,202.4h0.6M652.2,175.4h0.6M622.0,216.3h0.6M653.9,222.4h0.6M617.1,166.7h0.6M641.9,198.7h0.6M625.7,229.6h0.6M650.1,214.8h0.6M640.7,219.8h0.6M655.5,223.1h0.6M643.7,221.9h0.6M620.7,235.1h0.6M648.5,221.5h0.6M619.1,169.2h0.6M633.2,139.7h0.6M628.1,210.5h0.6M622.4,225.3h0.6M631.8,181.2h0.6M630.6,201.2h0.6M629.6,213.6h0.6M625.7,174.6h0.6M634.2,185.7h0.6M624.6,208.7h0.6M636.3,173.9h0.6M622.1,181.6h0.6M628.3,177.6h0.6M636.0,159.3h0.6M635.3,153.3h0.6M625.1,200.8h0.6M634.6,206.5h0.6M630.7,188.6h0.6M629.8,199.4h0.6M628.1,191.9h0.6M631.9,185.0h0.6M632.8,199.1h0.6M639.1,193.1h0.6M626.9,175.7h0.6M628.9,208.1h0.6M627.3,194.6h0.6M623.4,191.1h0.6M631.0,191.0h0.6M626.8,201.4h0.6M674.8,165.6h0.6M641.0,231.9h0.6M662.2,164.3h0.6M662.8,154.3h0.6M662.2,234.2h0.6M676.3,210.5h0.6M651.0,182.8h0.6M647.0,216.8h0.6M662.4,217.4h0.6M653.8,170.7h0.6M674.1,234.7h0.6M675.8,219.7h0.6M674.4,214.1h0.6M649.5,195.5h0.6M654.9,154.4h0.6M641.2,175.5h0.6M650.9,210.2h0.6M680.2,189.6h0.6M679.4,235.0h0.6M680.1,182.6h0.6M649.3,171.1h0.6M648.3,169.2h0.6M666.2,227.6h0.6M675.3,192.3h0.6M667.4,219.2h0.6M643.6,207.5h0.6M678.2,217.7h0.6M671.5,192.2h0.6M647.5,218.3h0.6M654.0,219.3h0.6M680.8,185.3h0.6M656.9,231.5h0.6M670.4,166.3h0.6M645.3,164.7h0.6M678.0,219.7h0.6M668.8,231.9h0.6M670.7,218.6h0.6M657.5,228.1h0.6M662.7,221.0h0.6M670.5,217.9h0.6M648.2,216.9h0.6M650.9,226.6h0.6M663.9,215.1h0.6M661.9,226.7h0.6M662.5,230.6h0.6M661.6,228.3h0.6M670.9,232.9h0.6M658.0,227.0h0.6M650.7,211.3h0.6" stroke="#555" stroke-width="0.65" fill="none"/>
<path d="M682.3,234.9 L619.2,234.9 L616.2,230.4 L625.4,218.1 L647,159.5 L655.6,148.6 L682.3,148.6 L682.3,234.9" stroke="#444" stroke-width="0.55" fill="none"/>
<path d="M608.0,233.5L607.5,233.5L607.0,233.5L606.5,233.5L606.0,233.5L605.8,233.5L605.2,233.4L604.8,233.3L604.5,233.2L604.0,233.1L603.6,233.0L603.2,232.9L602.9,232.8L602.5,232.6L602.2,232.5L601.8,232.2L601.5,232.1L601.2,231.9L601.0,231.8L600.6,231.5L600.3,231.2L600.0,231.0L599.8,230.8L599.5,230.6L599.2,230.4L599.0,230.1L598.8,229.8L598.5,229.6L598.3,229.2L598.1,229.0L597.9,228.8L597.6,228.5L597.4,228.2L597.2,228.0L597.0,227.7L596.8,227.3L596.5,227.0L596.4,226.8L596.2,226.5L596.0,226.0L595.9,225.8L595.8,225.3L595.6,225.0L595.5,224.5L595.5,224.2L595.4,223.8L595.3,223.2L595.3,222.8L595.3,222.2L595.3,221.8L595.4,221.2L595.5,220.8L595.5,220.5L595.6,220.0L595.8,219.7L595.9,219.2L596.0,219.0L596.2,218.5L596.4,218.2L596.5,218.0L596.8,217.7L597.0,217.3L597.2,217.0L597.4,216.8L597.6,216.5L597.8,216.2L598.0,215.8L598.1,215.5L598.2,215.2L598.5,214.8L598.6,214.5L598.8,214.2L598.9,213.8L599.1,213.5L599.2,213.1L599.4,212.8L599.5,212.5L599.8,212.1L599.9,211.8L600.0,211.5L600.2,211.1L600.4,210.8L600.5,210.5L600.8,210.0L600.9,209.8L601.0,209.5L601.2,209.0L601.4,208.8L601.5,208.5L601.8,208.0L601.9,207.8L602.0,207.5L602.2,207.0L602.4,206.8L602.5,206.5L602.8,206.0L602.9,205.8L603.0,205.5L603.2,205.0L603.4,204.8L603.5,204.5L603.8,204.1L604.0,203.8L604.2,203.5L604.4,203.2L604.5,203.0L604.8,202.7L605.0,202.4L605.2,202.0L605.5,201.8L605.6,201.5L605.8,201.2L606.0,201.0L606.2,200.7L606.5,200.3L606.7,200.0L606.9,199.8L607.1,199.5L607.3,199.2L607.5,199.0L607.8,198.6L608.0,198.3L608.2,198.0L608.4,197.8L608.6,197.5L608.8,197.2L609.0,196.9L609.2,196.5L609.5,196.2L609.6,196.0L609.8,195.8L610.0,195.3L610.1,195.0L610.2,194.6L610.4,194.2L610.5,193.9L610.6,193.5L610.8,193.2L610.9,192.8L611.0,192.5L611.2,192.0L611.3,191.8L611.4,191.2L611.5,191.0L611.7,190.5L611.8,190.2L612.0,189.8L612.1,189.5L612.2,189.0L612.3,188.8L612.5,188.3L612.6,188.0L612.8,187.6L612.9,187.2L613.0,187.0L613.2,186.5L613.3,186.2L613.4,185.8L613.5,185.5L613.7,185.0L613.8,184.8L614.0,184.2L614.1,184.0L614.2,183.6L614.4,183.2L614.5,182.9L614.6,182.5L614.8,182.2L614.9,181.8L615.0,181.3L615.1,181.0L615.2,180.5L615.3,180.2L615.5,179.8L615.6,179.5L615.7,179.0L615.8,178.8L615.9,178.2L616.0,178.0L616.2,177.5L616.3,177.2L616.4,176.8L616.5,176.5L616.6,176.0L616.8,175.7L616.9,175.2L617.0,174.9L617.1,174.5L617.2,174.1L617.4,173.8L617.5,173.3L617.6,173.0L617.8,172.6L617.9,172.2L618.0,171.8L618.1,171.5L618.2,171.1L618.4,170.8L618.5,170.3L618.6,170.0L618.8,169.6L618.9,169.2L619.0,168.9L619.1,168.5L619.2,168.1L619.4,167.8L619.5,167.5L619.7,167.0L619.8,166.8L620.0,166.2L620.1,166.0L620.2,165.5L620.4,165.2L620.5,164.9L620.7,164.5L620.8,164.2L621.0,163.8L621.1,163.5L621.2,163.0L621.4,162.8L621.5,162.4L621.7,162.0L621.8,161.8L622.0,161.2L622.1,161.0L622.2,160.6L622.4,160.2L622.5,160.0L622.7,159.5L622.8,159.2L623.0,158.8L623.1,158.5L623.3,158.2L623.5,157.8L623.6,157.5L623.8,157.1L623.9,156.8L624.0,156.5L624.2,156.0L624.4,155.8L624.5,155.5L624.7,155.0L624.8,154.8L625.0,154.4L625.2,154.0L625.3,153.8L625.5,153.4L625.7,153.0L625.9,152.8L626.2,152.5L626.5,152.2L626.8,152.1L627.0,151.9L627.5,151.8L627.8,151.7L628.2,151.6L628.8,151.6L629.2,151.7L629.5,151.8L630.0,151.9L630.2,152.1L630.5,152.2L630.8,152.5L631.1,152.8L631.3,153.0L631.5,153.4L631.7,153.8L631.8,154.0L631.9,154.5L631.9,155.0L631.9,155.5L631.9,156.0L632.0,156.5L632.0,157.0L632.0,157.5L632.0,158.0L632.0,158.5L632.0,159.0L632.0,159.5L632.0,160.0L632.0,160.5L632.0,161.0L631.9,161.5L631.9,162.0L631.9,162.5L631.9,163.0L631.9,163.5L631.9,164.0L631.9,164.5L631.8,165.0L631.8,165.5L631.8,166.0L631.8,166.5L631.8,167.0L631.8,167.5L631.7,167.8L631.7,168.2L631.7,168.8L631.7,169.2L631.6,169.8L631.6,170.2L631.6,170.8L631.5,171.2L631.5,171.6L631.5,172.0L631.4,172.5L631.3,173.0L631.3,173.5L631.2,173.9L631.2,174.2L631.2,174.8L631.1,175.2L631.0,175.8L631.0,176.1L631.0,176.5L630.9,177.0L630.8,177.5L630.8,178.0L630.7,178.2L630.7,178.8L630.6,179.2L630.5,179.8L630.5,180.1L630.5,180.5L630.4,181.0L630.3,181.5L630.3,182.0L630.2,182.2L630.2,182.8L630.1,183.2L630.0,183.8L630.0,184.0L629.9,184.5L629.8,185.0L629.8,185.5L629.7,185.8L629.7,186.2L629.6,186.8L629.5,187.2L629.5,187.5L629.4,188.0L629.3,188.5L629.2,188.8L629.2,189.2L629.1,189.8L629.0,190.2L628.9,190.5L628.9,191.0L628.8,191.5L628.7,191.8L628.6,192.2L628.6,192.8L628.5,193.1L628.4,193.5L628.3,194.0L628.3,194.5L628.2,194.8L628.1,195.2L628.0,195.8L628.0,196.0L627.9,196.5L627.8,197.0L627.8,197.3L627.7,197.8L627.6,198.2L627.5,198.7L627.4,199.0L627.4,199.5L627.3,200.0L627.2,200.2L627.1,200.8L627.0,201.2L627.0,201.5L626.9,202.0L626.8,202.5L626.7,202.8L626.5,203.2L626.5,203.5L626.3,204.0L626.2,204.2L626.1,204.8L626.0,205.0L625.8,205.5L625.8,205.8L625.6,206.2L625.5,206.6L625.4,207.0L625.2,207.4L625.1,207.8L625.0,208.2L624.9,208.5L624.8,209.0L624.7,209.2L624.5,209.8L624.5,210.0L624.3,210.5L624.2,210.8L624.1,211.2L624.0,211.5L623.8,212.0L623.8,212.3L623.6,212.8L623.5,213.1L623.4,213.5L623.2,213.9L623.1,214.2L623.0,214.5L622.8,215.0L622.6,215.2L622.5,215.6L622.3,216.0L622.2,216.2L622.0,216.6L621.8,217.0L621.7,217.2L621.5,217.7L621.4,218.0L621.2,218.3L621.0,218.8L620.9,219.0L620.8,219.3L620.6,219.8L620.4,220.0L620.2,220.4L620.1,220.8L620.0,221.0L619.8,221.5L619.6,221.8L619.5,222.0L619.3,222.5L619.1,222.8L619.0,223.0L618.8,223.5L618.7,223.8L618.5,224.2L618.5,224.5L618.4,225.0L618.2,225.3L618.1,225.8L618.0,226.0L617.8,226.5L617.6,226.8L617.5,227.0L617.2,227.3L617.0,227.7L616.8,228.0L616.6,228.2L616.4,228.5L616.1,228.8L615.9,229.0L615.7,229.2L615.5,229.6L615.2,229.8L615.0,230.1L614.8,230.4L614.5,230.6L614.2,230.8L614.0,231.0L613.7,231.2L613.4,231.5L613.0,231.8L612.8,231.9L612.5,232.1L612.2,232.2L611.8,232.5L611.5,232.6L611.1,232.8L610.8,232.9L610.4,233.0L610.0,233.1L609.5,233.2L609.2,233.3L608.8,233.4L608.2,233.5L608.0,233.5ZM607.2,233.0L606.8,233.0L606.5,233.0L606.0,233.0L605.5,232.9L605.0,232.8L604.7,232.8L604.2,232.6L603.8,232.5L603.5,232.4L603.1,232.2L602.8,232.1L602.5,232.0L602.0,231.8L601.8,231.6L601.5,231.5L601.2,231.2L600.8,231.0L600.5,230.8L600.2,230.5L600.0,230.3L599.8,230.1L599.5,229.9L599.2,229.6L599.0,229.3L598.8,229.1L598.5,228.8L598.2,228.6L598.0,228.3L597.8,228.0L597.5,227.8L597.4,227.5L597.2,227.2L597.0,227.0L596.8,226.5L596.6,226.2L596.5,226.0L596.3,225.5L596.2,225.2L596.0,224.8L596.0,224.5L595.8,224.0L595.8,223.5L595.7,223.2L595.7,222.8L595.7,222.2L595.7,221.8L595.8,221.5L595.8,221.0L596.0,220.5L596.0,220.2L596.2,219.8L596.3,219.5L596.5,219.0L596.6,218.8L596.8,218.5L597.0,218.0L597.2,217.8L597.4,217.5L597.5,217.2L597.8,217.0L598.0,216.7L598.2,216.4L598.5,216.0L598.6,215.8L598.8,215.4L599.0,215.0L599.1,214.8L599.2,214.4L599.5,214.0L599.6,213.8L599.8,213.4L600.0,213.0L600.1,212.8L600.2,212.4L600.5,212.0L600.6,211.8L600.8,211.4L600.9,211.0L601.1,210.8L601.2,210.4L601.5,210.0L601.6,209.8L601.8,209.4L602.0,209.0L602.1,208.8L602.2,208.4L602.5,208.0L602.6,207.8L602.8,207.4L603.0,207.0L603.1,206.8L603.2,206.4L603.5,206.0L603.6,205.8L603.8,205.5L604.0,205.0L604.1,204.8L604.3,204.5L604.5,204.2L604.8,203.8L605.0,203.5L605.2,203.2L605.4,203.0L605.5,202.8L605.8,202.5L606.0,202.1L606.2,201.8L606.5,201.5L606.6,201.2L606.8,201.0L607.0,200.8L607.2,200.4L607.5,200.1L607.7,199.8L607.9,199.5L608.1,199.2L608.3,199.0L608.5,198.7L608.8,198.4L609.0,198.0L609.2,197.8L609.4,197.5L609.6,197.2L609.8,197.0L610.0,196.6L610.2,196.3L610.5,196.0L610.6,195.8L610.7,195.2L610.8,195.0L611.0,194.5L611.1,194.2L611.2,193.8L611.4,193.5L611.5,193.2L611.7,192.8L611.8,192.5L611.9,192.0L612.0,191.8L612.2,191.2L612.3,191.0L612.5,190.5L612.6,190.2L612.8,189.8L612.9,189.5L613.0,189.1L613.1,188.8L613.2,188.4L613.4,188.0L613.5,187.8L613.7,187.2L613.8,187.0L614.0,186.5L614.1,186.2L614.2,185.8L614.4,185.5L614.5,185.1L614.6,184.8L614.8,184.5L614.9,184.0L615.0,183.8L615.2,183.2L615.3,183.0L615.5,182.5L615.6,182.2L615.7,181.8L615.8,181.5L616.0,181.0L616.1,180.8L616.2,180.2L616.3,180.0L616.5,179.5L616.5,179.2L616.7,178.8L616.8,178.5L617.0,178.0L617.0,177.8L617.2,177.2L617.3,177.0L617.5,176.5L617.5,176.2L617.7,175.8L617.8,175.5L618.0,175.0L618.1,174.8L618.2,174.2L618.3,174.0L618.5,173.5L618.6,173.2L618.8,172.8L618.9,172.5L619.0,172.1L619.1,171.8L619.2,171.4L619.4,171.0L619.5,170.7L619.7,170.2L619.8,170.0L620.0,169.5L620.1,169.2L620.2,168.8L620.3,168.5L620.5,168.1L620.6,167.8L620.8,167.5L621.0,167.0L621.1,166.8L621.2,166.3L621.4,166.0L621.5,165.8L621.7,165.2L621.8,165.0L622.0,164.6L622.2,164.2L622.3,164.0L622.5,163.5L622.6,163.2L622.8,163.0L623.0,162.5L623.1,162.2L623.2,161.9L623.5,161.5L623.6,161.2L623.8,160.9L624.0,160.5L624.1,160.2L624.2,159.9L624.5,159.5L624.6,159.2L624.8,159.0L625.0,158.6L625.2,158.2L625.3,158.0L625.5,157.7L625.8,157.3L626.0,157.0L626.2,156.8L626.3,156.5L626.5,156.2L626.8,156.0L627.0,155.7L627.2,155.5L627.5,155.2L628.0,155.0L628.2,154.9L628.6,155.0L629.0,155.2L629.2,155.5L629.3,155.8L629.5,156.1L629.7,156.5L629.8,156.8L629.9,157.2L630.0,157.8L630.0,158.0L630.1,158.5L630.2,159.0L630.2,159.5L630.2,159.8L630.3,160.2L630.3,160.8L630.4,161.2L630.4,161.8L630.4,162.2L630.4,162.8L630.5,163.2L630.5,163.8L630.5,164.2L630.5,164.8L630.5,165.2L630.5,165.5L630.5,166.0L630.5,166.5L630.5,167.0L630.5,167.5L630.5,167.8L630.5,168.2L630.5,168.8L630.5,169.2L630.5,169.8L630.5,170.2L630.4,170.8L630.4,171.2L630.4,171.8L630.3,172.2L630.3,172.8L630.2,173.2L630.2,173.5L630.2,174.0L630.1,174.5L630.1,175.0L630.1,175.5L630.0,176.0L630.0,176.2L629.9,176.8L629.9,177.2L629.8,177.8L629.8,178.2L629.8,178.6L629.7,179.0L629.7,179.5L629.6,180.0L629.5,180.5L629.5,180.9L629.5,181.2L629.4,181.8L629.3,182.2L629.3,182.8L629.2,183.0L629.2,183.5L629.1,184.0L629.1,184.5L629.0,185.0L629.0,185.2L628.9,185.8L628.8,186.2L628.8,186.8L628.7,187.0L628.6,187.5L628.6,188.0L628.5,188.5L628.5,188.8L628.4,189.2L628.3,189.8L628.2,190.0L628.2,190.5L628.1,191.0L628.0,191.5L628.0,191.8L627.9,192.2L627.8,192.8L627.8,193.1L627.7,193.5L627.6,194.0L627.5,194.5L627.5,194.8L627.4,195.2L627.3,195.8L627.2,196.1L627.2,196.5L627.1,197.0L627.0,197.5L627.0,197.8L626.9,198.2L626.8,198.8L626.8,199.0L626.7,199.5L626.6,200.0L626.5,200.4L626.4,200.8L626.4,201.2L626.3,201.8L626.2,202.0L626.1,202.5L626.0,202.8L625.8,203.2L625.8,203.5L625.6,204.0L625.5,204.3L625.4,204.8L625.2,205.2L625.1,205.5L625.0,206.0L624.9,206.2L624.8,206.8L624.7,207.0L624.5,207.5L624.5,207.8L624.3,208.2L624.2,208.5L624.1,209.0L624.0,209.2L623.8,209.8L623.8,210.0L623.6,210.5L623.5,210.9L623.4,211.2L623.2,211.7L623.2,212.0L623.0,212.5L622.9,212.8L622.8,213.2L622.7,213.5L622.5,214.0L622.4,214.2L622.2,214.5L622.0,215.0L621.9,215.2L621.8,215.7L621.6,216.0L621.5,216.2L621.3,216.8L621.1,217.0L621.0,217.3L620.8,217.8L620.7,218.0L620.5,218.4L620.3,218.8L620.2,219.0L620.0,219.5L619.9,219.8L619.8,220.0L619.5,220.5L619.4,220.8L619.2,221.1L619.1,221.5L619.0,221.8L618.8,222.2L618.6,222.5L618.5,222.8L618.3,223.2L618.2,223.5L618.2,224.0L618.0,224.5L618.0,224.8L617.8,225.2L617.7,225.5L617.5,226.0L617.4,226.2L617.2,226.5L617.0,227.0L616.8,227.2L616.6,227.5L616.5,227.8L616.2,228.0L616.0,228.3L615.8,228.6L615.5,228.8L615.2,229.1L615.0,229.3L614.8,229.6L614.5,229.9L614.2,230.1L614.0,230.3L613.8,230.5L613.5,230.8L613.2,231.0L612.8,231.2L612.5,231.5L612.2,231.6L612.0,231.8L611.5,232.0L611.2,232.1L610.9,232.2L610.5,232.4L610.2,232.5L609.8,232.6L609.3,232.8L609.0,232.8L608.5,232.9L608.0,233.0L607.5,233.0L607.2,233.0ZM608.8,232.3L608.2,232.4L607.8,232.4L607.2,232.4L606.8,232.4L606.2,232.4L605.8,232.4L605.2,232.3L605.0,232.2L604.5,232.1L604.1,232.0L603.8,231.9L603.4,231.8L603.0,231.6L602.8,231.5L602.3,231.2L602.0,231.1L601.8,230.9L601.5,230.8L601.1,230.5L600.8,230.2L600.5,230.0L600.2,229.8L600.0,229.5L599.8,229.4L599.5,229.1L599.2,228.9L599.0,228.7L598.8,228.5L598.5,228.2L598.2,227.9L598.0,227.6L597.8,227.3L597.5,227.0L597.4,226.8L597.2,226.5L597.0,226.0L596.9,225.8L596.8,225.5L596.6,225.0L596.5,224.8L596.4,224.2L596.3,223.8L596.2,223.5L596.2,223.0L596.2,222.5L596.2,222.0L596.2,221.5L596.3,221.2L596.4,220.8L596.5,220.2L596.6,220.0L596.8,219.5L596.9,219.2L597.0,219.0L597.2,218.5L597.4,218.2L597.5,218.0L597.8,217.7L598.0,217.4L598.2,217.1L598.5,216.8L598.8,216.5L599.0,216.3L599.1,216.0L599.3,215.8L599.5,215.3L599.6,215.0L599.8,214.8L600.0,214.3L600.1,214.0L600.3,213.8L600.5,213.3L600.6,213.0L600.8,212.8L601.0,212.3L601.2,212.0L601.3,211.8L601.5,211.3L601.7,211.0L601.8,210.8L602.0,210.3L602.2,210.0L602.3,209.8L602.5,209.4L602.7,209.0L602.8,208.8L603.0,208.4L603.2,208.0L603.3,207.8L603.5,207.4L603.7,207.0L603.9,206.8L604.0,206.5L604.2,206.0L604.4,205.8L604.5,205.5L604.8,205.1L605.0,204.8L605.1,204.5L605.3,204.2L605.5,204.0L605.8,203.7L606.0,203.3L606.2,203.0L606.4,202.8L606.6,202.5L606.8,202.2L607.0,202.0L607.2,201.6L607.5,201.3L607.7,201.0L607.9,200.8L608.1,200.5L608.2,200.2L608.5,199.9L608.8,199.6L609.0,199.2L609.2,199.0L609.3,198.8L609.5,198.5L609.8,198.2L610.0,197.9L610.2,197.5L610.4,197.2L610.6,197.0L610.8,196.8L611.0,196.5L611.2,196.0L611.3,195.8L611.5,195.3L611.6,195.0L611.8,194.7L611.9,194.2L612.0,194.0L612.2,193.5L612.3,193.2L612.5,192.8L612.6,192.5L612.8,192.0L612.9,191.8L613.0,191.4L613.1,191.0L613.2,190.7L613.4,190.2L613.5,190.0L613.7,189.5L613.8,189.2L614.0,188.8L614.1,188.5L614.2,188.1L614.4,187.8L614.5,187.5L614.7,187.0L614.8,186.8L615.0,186.2L615.1,186.0L615.2,185.6L615.4,185.2L615.5,185.0L615.7,184.5L615.8,184.2L616.0,183.8L616.1,183.5L616.2,183.1L616.4,182.8L616.5,182.4L616.7,182.0L616.8,181.7L616.9,181.2L617.0,181.0L617.2,180.5L617.3,180.2L617.4,179.8L617.5,179.5L617.7,179.0L617.8,178.8L618.0,178.2L618.1,178.0L618.2,177.5L618.3,177.2L618.5,176.8L618.6,176.5L618.8,176.2L618.9,175.8L619.0,175.5L619.2,175.0L619.3,174.8L619.5,174.2L619.6,174.0L619.8,173.6L619.9,173.2L620.0,173.0L620.2,172.5L620.3,172.2L620.5,171.8L620.6,171.5L620.8,171.2L620.9,170.8L621.1,170.5L621.2,170.1L621.4,169.8L621.5,169.5L621.7,169.0L621.9,168.8L622.0,168.4L622.2,168.0L622.4,167.8L622.5,167.5L622.7,167.0L622.9,166.8L623.0,166.5L623.2,166.1L623.5,165.8L623.6,165.5L623.8,165.2L624.0,164.9L624.2,164.5L624.4,164.2L624.6,164.0L624.8,163.8L625.0,163.5L625.2,163.2L625.5,162.9L625.8,162.7L626.0,162.5L626.5,162.3L626.8,162.2L627.0,162.3L627.4,162.5L627.6,162.8L627.8,163.0L628.0,163.5L628.1,163.8L628.2,164.2L628.3,164.5L628.4,165.0L628.5,165.3L628.6,165.8L628.6,166.2L628.7,166.8L628.8,167.1L628.8,167.5L628.8,168.0L628.9,168.5L628.9,169.0L628.9,169.5L628.9,170.0L629.0,170.5L629.0,171.0L629.0,171.5L628.9,172.0L628.9,172.5L628.9,173.0L628.9,173.5L628.9,174.0L628.9,174.5L628.9,175.0L628.8,175.5L628.8,176.0L628.8,176.5L628.8,177.0L628.7,177.2L628.7,177.8L628.7,178.2L628.6,178.8L628.6,179.2L628.6,179.8L628.5,180.2L628.5,180.5L628.4,181.0L628.4,181.5L628.4,182.0L628.3,182.5L628.3,183.0L628.2,183.2L628.2,183.8L628.1,184.2L628.1,184.8L628.0,185.2L628.0,185.6L628.0,186.0L627.9,186.5L627.8,187.0L627.8,187.5L627.7,187.8L627.6,188.2L627.6,188.8L627.5,189.2L627.5,189.5L627.4,190.0L627.3,190.5L627.2,191.0L627.2,191.2L627.1,191.8L627.1,192.2L627.0,192.6L626.9,193.0L626.9,193.5L626.8,194.0L626.8,194.3L626.7,194.8L626.6,195.2L626.5,195.8L626.5,196.0L626.4,196.5L626.3,197.0L626.2,197.4L626.2,197.8L626.1,198.2L626.0,198.8L626.0,199.0L625.9,199.5L625.8,200.0L625.8,200.5L625.7,200.8L625.6,201.2L625.5,201.8L625.5,202.0L625.3,202.5L625.2,202.8L625.1,203.2L625.0,203.5L624.9,204.0L624.8,204.3L624.6,204.8L624.5,205.2L624.4,205.5L624.2,206.0L624.2,206.2L624.0,206.8L623.9,207.0L623.8,207.5L623.7,207.8L623.6,208.2L623.5,208.5L623.3,209.0L623.2,209.3L623.1,209.8L623.0,210.1L622.9,210.5L622.8,210.9L622.6,211.2L622.5,211.7L622.4,212.0L622.3,212.5L622.2,212.8L622.0,213.2L621.9,213.5L621.8,213.9L621.6,214.2L621.5,214.5L621.3,215.0L621.2,215.2L621.0,215.7L620.9,216.0L620.7,216.2L620.5,216.8L620.4,217.0L620.2,217.4L620.1,217.8L620.0,218.0L619.8,218.5L619.6,218.8L619.5,219.0L619.3,219.5L619.2,219.8L619.0,220.2L618.8,220.5L618.7,220.8L618.5,221.2L618.4,221.5L618.2,221.8L618.1,222.2L617.9,222.5L617.8,223.0L617.8,223.5L617.7,223.8L617.6,224.2L617.5,224.8L617.4,225.0L617.2,225.5L617.1,225.8L617.0,226.0L616.8,226.5L616.6,226.8L616.5,227.0L616.2,227.3L616.0,227.6L615.8,227.9L615.5,228.2L615.2,228.5L615.0,228.7L614.8,228.9L614.5,229.1L614.2,229.4L614.0,229.5L613.8,229.8L613.5,230.0L613.2,230.2L612.9,230.5L612.5,230.8L612.2,230.9L612.0,231.1L611.7,231.2L611.2,231.5L611.0,231.6L610.6,231.8L610.2,231.9L609.9,232.0L609.5,232.1L609.0,232.2L608.8,232.3ZM608.0,231.8L607.5,231.8L607.0,231.8L606.5,231.8L606.0,231.8L605.8,231.7L605.2,231.7L604.8,231.6L604.5,231.5L604.0,231.3L603.8,231.2L603.2,231.0L603.0,230.9L602.6,230.8L602.2,230.5L602.0,230.4L601.8,230.2L601.5,230.0L601.1,229.8L600.8,229.5L600.5,229.4L600.2,229.2L600.0,229.0L599.7,228.8L599.4,228.5L599.2,228.2L598.9,228.0L598.7,227.8L598.5,227.5L598.2,227.2L598.0,226.9L597.8,226.5L597.6,226.2L597.5,226.0L597.3,225.5L597.2,225.2L597.0,224.8L596.9,224.5L596.8,224.0L596.7,223.8L596.7,223.2L596.6,222.8L596.6,222.2L596.7,221.8L596.7,221.2L596.8,221.0L596.9,220.5L597.0,220.2L597.2,219.8L597.3,219.5L597.5,219.0L597.6,218.8L597.8,218.5L598.0,218.1L598.2,217.8L598.5,217.5L598.7,217.2L598.9,217.0L599.2,216.8L599.4,216.5L599.7,216.2L599.8,216.0L600.0,215.7L600.2,215.2L600.4,215.0L600.5,214.7L600.7,214.2L600.9,214.0L601.0,213.7L601.2,213.3L601.4,213.0L601.5,212.8L601.8,212.3L601.9,212.0L602.0,211.8L602.2,211.4L602.4,211.0L602.6,210.8L602.8,210.4L603.0,210.0L603.1,209.8L603.2,209.5L603.5,209.0L603.6,208.8L603.8,208.5L604.0,208.1L604.2,207.8L604.3,207.5L604.5,207.1L604.7,206.8L604.8,206.5L605.0,206.2L605.2,205.8L605.4,205.5L605.5,205.2L605.8,204.9L606.0,204.6L606.2,204.3L606.4,204.0L606.6,203.8L606.8,203.5L607.0,203.2L607.2,202.9L607.5,202.6L607.7,202.2L607.9,202.0L608.1,201.8L608.3,201.5L608.5,201.2L608.8,200.9L609.0,200.5L609.2,200.2L609.4,200.0L609.6,199.8L609.8,199.5L610.0,199.2L610.2,198.8L610.5,198.5L610.7,198.2L610.9,198.0L611.0,197.8L611.2,197.5L611.5,197.1L611.8,196.8L611.9,196.5L612.0,196.2L612.2,195.8L612.3,195.5L612.5,195.0L612.6,194.8L612.8,194.4L612.9,194.0L613.0,193.7L613.2,193.2L613.3,193.0L613.5,192.5L613.6,192.2L613.8,191.9L613.9,191.5L614.0,191.2L614.2,190.8L614.3,190.5L614.5,190.0L614.6,189.8L614.8,189.4L614.9,189.0L615.0,188.8L615.2,188.2L615.3,188.0L615.5,187.6L615.6,187.2L615.8,187.0L616.0,186.5L616.1,186.2L616.2,185.8L616.4,185.5L616.5,185.2L616.7,184.8L616.8,184.5L617.0,184.1L617.1,183.8L617.3,183.5L617.5,183.0L617.6,182.8L617.8,182.3L617.9,182.0L618.0,181.6L618.1,181.2L618.2,181.0L618.4,180.5L618.5,180.2L618.7,179.8L618.9,179.5L619.0,179.1L619.2,178.8L619.3,178.5L619.5,178.0L619.6,177.8L619.8,177.4L619.9,177.0L620.0,176.8L620.2,176.3L620.4,176.0L620.5,175.8L620.7,175.2L620.9,175.0L621.0,174.7L621.2,174.2L621.4,174.0L621.5,173.8L621.8,173.3L621.9,173.0L622.1,172.8L622.2,172.5L622.5,172.1L622.7,171.8L622.9,171.5L623.1,171.2L623.2,171.0L623.5,170.7L623.8,170.4L624.0,170.2L624.2,170.0L624.6,169.8L625.0,169.6L625.5,169.6L625.8,169.8L626.0,170.0L626.2,170.4L626.4,170.8L626.5,171.0L626.7,171.5L626.8,171.8L626.8,172.2L626.9,172.8L627.0,173.2L627.0,173.5L627.1,174.0L627.1,174.5L627.2,175.0L627.2,175.5L627.2,176.0L627.2,176.5L627.2,177.0L627.2,177.5L627.2,178.0L627.2,178.5L627.2,179.0L627.2,179.5L627.2,180.0L627.2,180.5L627.2,181.0L627.2,181.5L627.1,182.0L627.1,182.5L627.1,183.0L627.1,183.5L627.0,184.0L627.0,184.4L627.0,184.8L626.9,185.2L626.9,185.8L626.8,186.2L626.8,186.8L626.8,187.1L626.7,187.5L626.6,188.0L626.6,188.5L626.5,189.0L626.5,189.2L626.4,189.8L626.4,190.2L626.3,190.8L626.2,191.2L626.2,191.5L626.2,192.0L626.1,192.5L626.0,193.0L626.0,193.2L625.9,193.8L625.8,194.2L625.8,194.8L625.7,195.0L625.7,195.5L625.6,196.0L625.5,196.5L625.5,196.8L625.4,197.2L625.3,197.8L625.3,198.2L625.2,198.5L625.2,199.0L625.1,199.5L625.0,200.0L625.0,200.2L624.9,200.8L624.8,201.2L624.8,201.6L624.6,202.0L624.5,202.5L624.4,202.8L624.3,203.2L624.2,203.5L624.0,204.0L624.0,204.2L623.8,204.8L623.7,205.0L623.6,205.5L623.5,205.8L623.4,206.2L623.2,206.6L623.1,207.0L623.0,207.4L622.9,207.8L622.8,208.2L622.7,208.5L622.5,209.0L622.5,209.2L622.3,209.8L622.2,210.0L622.1,210.5L622.0,210.8L621.9,211.2L621.8,211.6L621.6,212.0L621.5,212.4L621.4,212.8L621.2,213.2L621.1,213.5L621.0,213.8L620.8,214.2L620.7,214.5L620.5,215.0L620.4,215.2L620.2,215.6L620.1,216.0L620.0,216.2L619.8,216.7L619.6,217.0L619.5,217.3L619.3,217.8L619.2,218.0L619.0,218.5L618.9,218.8L618.8,219.0L618.6,219.5L618.4,219.8L618.2,220.2L618.1,220.5L618.0,220.8L617.8,221.2L617.7,221.5L617.5,221.9L617.4,222.2L617.4,222.8L617.3,223.2L617.3,223.8L617.2,224.0L617.1,224.5L617.0,224.8L616.8,225.2L616.7,225.5L616.5,226.0L616.4,226.2L616.2,226.5L616.0,226.9L615.8,227.2L615.5,227.5L615.3,227.8L615.1,228.0L614.8,228.2L614.6,228.5L614.3,228.8L614.0,229.0L613.8,229.2L613.5,229.4L613.2,229.5L612.9,229.8L612.5,230.0L612.2,230.2L612.0,230.4L611.8,230.5L611.4,230.8L611.0,230.9L610.8,231.0L610.2,231.2L610.0,231.3L609.5,231.5L609.2,231.6L608.8,231.7L608.2,231.7L608.0,231.8ZM608.8,231.0L608.2,231.1L607.8,231.1L607.2,231.2L606.8,231.2L606.2,231.1L605.8,231.1L605.2,231.0L605.0,230.9L604.5,230.8L604.2,230.7L603.8,230.6L603.5,230.4L603.1,230.2L602.8,230.1L602.5,230.0L602.1,229.8L601.8,229.6L601.5,229.5L601.2,229.2L600.8,229.0L600.5,228.8L600.2,228.6L600.0,228.4L599.8,228.2L599.5,227.9L599.2,227.7L599.0,227.4L598.8,227.1L598.5,226.8L598.3,226.5L598.2,226.2L598.0,225.9L597.8,225.5L597.7,225.2L597.5,224.8L597.4,224.5L597.3,224.0L597.2,223.8L597.2,223.2L597.1,222.8L597.1,222.2L597.2,221.8L597.2,221.2L597.3,221.0L597.4,220.5L597.5,220.2L597.7,219.8L597.8,219.5L598.0,219.1L598.2,218.8L598.3,218.5L598.5,218.2L598.8,217.9L599.0,217.6L599.2,217.3L599.5,217.1L599.8,216.8L600.0,216.6L600.2,216.4L600.5,216.1L600.7,215.8L600.9,215.5L601.0,215.2L601.2,214.8L601.4,214.5L601.5,214.2L601.8,213.8L601.9,213.5L602.1,213.2L602.2,212.9L602.5,212.5L602.6,212.2L602.8,212.0L603.0,211.5L603.1,211.2L603.3,211.0L603.5,210.6L603.7,210.2L603.8,210.0L604.0,209.7L604.2,209.2L604.4,209.0L604.5,208.8L604.8,208.3L604.9,208.0L605.1,207.8L605.2,207.4L605.5,207.0L605.6,206.8L605.8,206.5L606.0,206.1L606.2,205.8L606.4,205.5L606.5,205.2L606.8,205.0L607.0,204.6L607.2,204.3L607.5,204.0L607.7,203.8L607.8,203.5L608.0,203.2L608.2,203.0L608.5,202.6L608.8,202.3L609.0,202.0L609.2,201.8L609.3,201.5L609.5,201.2L609.8,201.0L610.0,200.6L610.2,200.3L610.5,200.0L610.7,199.8L610.8,199.5L611.0,199.2L611.2,198.9L611.5,198.6L611.8,198.3L612.0,198.0L612.1,197.8L612.3,197.5L612.5,197.2L612.8,196.9L612.9,196.5L613.0,196.2L613.2,195.8L613.3,195.5L613.5,195.1L613.6,194.8L613.8,194.5L614.0,194.0L614.1,193.8L614.2,193.3L614.4,193.0L614.5,192.7L614.7,192.2L614.8,192.0L615.0,191.6L615.1,191.2L615.2,191.0L615.5,190.5L615.6,190.2L615.8,189.9L615.9,189.5L616.0,189.2L616.2,188.8L616.4,188.5L616.5,188.2L616.7,187.8L616.8,187.5L617.0,187.1L617.2,186.8L617.3,186.5L617.5,186.1L617.7,185.8L617.8,185.5L618.0,185.1L618.2,184.8L618.3,184.5L618.5,184.1L618.7,183.8L618.8,183.5L619.0,183.1L619.2,182.8L619.3,182.5L619.5,182.0L619.6,181.8L619.8,181.5L620.0,181.1L620.2,180.8L620.3,180.5L620.5,180.1L620.7,179.8L620.9,179.5L621.0,179.2L621.2,178.9L621.5,178.6L621.7,178.2L622.0,178.0L622.2,177.8L622.4,177.5L622.7,177.2L623.0,177.1L623.2,177.0L623.8,176.9L624.0,177.0L624.3,177.2L624.5,177.5L624.8,178.0L624.8,178.2L625.0,178.7L625.1,179.0L625.2,179.5L625.2,180.0L625.3,180.2L625.3,180.8L625.4,181.2L625.4,181.8L625.5,182.2L625.5,182.8L625.5,183.0L625.5,183.5L625.5,184.0L625.5,184.5L625.5,185.0L625.5,185.5L625.5,185.9L625.5,186.2L625.5,186.8L625.4,187.2L625.4,187.8L625.4,188.2L625.3,188.8L625.3,189.2L625.2,189.7L625.2,190.0L625.2,190.5L625.1,191.0L625.1,191.5L625.0,192.0L625.0,192.4L625.0,192.8L624.9,193.2L624.9,193.8L624.8,194.2L624.8,194.7L624.7,195.0L624.7,195.5L624.6,196.0L624.5,196.5L624.5,196.8L624.4,197.2L624.4,197.8L624.3,198.2L624.3,198.8L624.2,199.0L624.2,199.5L624.1,200.0L624.0,200.5L624.0,200.8L623.9,201.2L623.8,201.8L623.7,202.0L623.6,202.5L623.5,202.8L623.3,203.2L623.2,203.5L623.1,204.0L623.0,204.4L622.9,204.8L622.8,205.2L622.7,205.5L622.5,206.0L622.5,206.2L622.3,206.8L622.2,207.0L622.1,207.5L622.0,207.8L621.9,208.2L621.8,208.7L621.6,209.0L621.5,209.5L621.4,209.8L621.3,210.2L621.2,210.5L621.1,211.0L621.0,211.2L620.8,211.8L620.8,212.1L620.6,212.5L620.5,212.8L620.3,213.2L620.2,213.5L620.0,214.0L619.9,214.2L619.8,214.7L619.6,215.0L619.5,215.3L619.3,215.8L619.2,216.0L619.0,216.5L618.9,216.8L618.8,217.1L618.6,217.5L618.5,217.8L618.3,218.2L618.2,218.5L618.0,218.9L617.9,219.2L617.8,219.5L617.5,220.0L617.4,220.2L617.2,220.7L617.1,221.0L617.0,221.3L616.8,221.8L616.9,222.2L616.9,222.8L616.8,223.2L616.8,223.8L616.7,224.0L616.6,224.5L616.5,224.8L616.3,225.2L616.2,225.5L616.0,225.9L615.8,226.2L615.7,226.5L615.5,226.8L615.2,227.1L615.0,227.4L614.8,227.7L614.5,227.9L614.2,228.2L614.0,228.4L613.8,228.6L613.5,228.8L613.2,229.0L612.8,229.2L612.5,229.5L612.2,229.6L611.9,229.8L611.5,230.0L611.2,230.1L610.9,230.2L610.5,230.4L610.2,230.6L609.8,230.7L609.5,230.8L609.0,230.9L608.8,231.0ZM609.0,230.3L608.5,230.4L608.0,230.4L607.5,230.5L607.0,230.5L606.5,230.5L606.0,230.4L605.5,230.4L605.0,230.3L604.8,230.2L604.2,230.1L604.0,230.0L603.5,229.9L603.2,229.8L602.8,229.6L602.5,229.5L602.1,229.2L601.8,229.1L601.5,228.9L601.2,228.8L600.9,228.5L600.6,228.2L600.3,228.0L600.0,227.8L599.8,227.5L599.5,227.2L599.3,227.0L599.1,226.8L598.9,226.5L598.8,226.2L598.5,225.8L598.4,225.5L598.2,225.2L598.0,224.8L598.0,224.5L597.8,224.0L597.8,223.6L597.7,223.2L597.7,222.8L597.7,222.2L597.7,221.8L597.8,221.4L597.8,221.0L598.0,220.5L598.0,220.2L598.2,219.8L598.4,219.5L598.5,219.2L598.8,218.8L598.9,218.5L599.1,218.2L599.3,218.0L599.5,217.8L599.8,217.5L600.0,217.2L600.3,217.0L600.6,216.8L600.9,216.5L601.2,216.2L601.4,216.0L601.6,215.8L601.8,215.4L602.0,215.0L602.1,214.8L602.3,214.5L602.5,214.1L602.7,213.8L602.8,213.5L603.0,213.2L603.2,212.8L603.4,212.5L603.5,212.2L603.8,211.8L603.9,211.5L604.1,211.2L604.2,210.9L604.5,210.5L604.6,210.2L604.8,210.0L605.0,209.6L605.2,209.2L605.4,209.0L605.5,208.8L605.8,208.3L605.9,208.0L606.1,207.8L606.2,207.5L606.5,207.1L606.7,206.8L606.8,206.5L607.0,206.2L607.2,205.9L607.5,205.5L607.7,205.2L607.9,205.0L608.1,204.8L608.3,204.5L608.5,204.2L608.8,203.9L609.0,203.5L609.2,203.2L609.4,203.0L609.6,202.8L609.8,202.5L610.0,202.2L610.2,201.9L610.5,201.6L610.8,201.3L610.9,201.0L611.1,200.8L611.3,200.5L611.5,200.2L611.8,199.9L612.0,199.6L612.2,199.3L612.5,199.0L612.7,198.8L612.9,198.5L613.1,198.2L613.3,198.0L613.5,197.7L613.8,197.3L613.9,197.0L614.0,196.8L614.2,196.2L614.3,196.0L614.5,195.7L614.7,195.2L614.8,195.0L615.0,194.6L615.2,194.2L615.3,194.0L615.5,193.5L615.6,193.2L615.8,193.0L616.0,192.5L616.1,192.2L616.2,192.0L616.5,191.5L616.6,191.2L616.8,191.0L617.0,190.5L617.1,190.2L617.3,190.0L617.5,189.6L617.7,189.2L617.8,189.0L618.0,188.7L618.2,188.3L618.4,188.0L618.6,187.8L618.8,187.5L619.0,187.1L619.2,186.8L619.4,186.5L619.6,186.2L619.8,186.0L620.0,185.7L620.2,185.4L620.5,185.1L620.8,184.9L621.0,184.7L621.2,184.5L621.8,184.3L622.0,184.2L622.2,184.3L622.6,184.5L622.8,184.8L623.0,185.1L623.1,185.5L623.2,185.9L623.3,186.2L623.4,186.8L623.5,187.2L623.5,187.5L623.5,188.0L623.6,188.5L623.6,189.0L623.6,189.5L623.6,190.0L623.6,190.5L623.6,191.0L623.6,191.5L623.6,192.0L623.6,192.5L623.6,193.0L623.5,193.5L623.5,194.0L623.5,194.2L623.5,194.8L623.4,195.2L623.4,195.8L623.3,196.2L623.3,196.8L623.3,197.2L623.2,197.5L623.2,198.0L623.1,198.5L623.1,199.0L623.1,199.5L623.0,200.0L623.0,200.2L622.9,200.8L622.8,201.2L622.7,201.5L622.6,202.0L622.5,202.4L622.4,202.8L622.3,203.2L622.2,203.5L622.1,204.0L622.0,204.2L621.9,204.8L621.8,205.1L621.6,205.5L621.5,206.0L621.4,206.2L621.3,206.8L621.2,207.0L621.1,207.5L621.0,207.8L620.9,208.2L620.8,208.7L620.7,209.0L620.5,209.5L620.4,209.8L620.3,210.2L620.2,210.5L620.1,211.0L620.0,211.3L619.9,211.8L619.8,212.2L619.6,212.5L619.5,212.9L619.4,213.2L619.2,213.5L619.1,214.0L619.0,214.2L618.8,214.8L618.7,215.0L618.5,215.5L618.4,215.8L618.2,216.1L618.1,216.5L618.0,216.8L617.8,217.2L617.7,217.5L617.5,218.0L617.4,218.2L617.2,218.6L617.1,219.0L617.0,219.2L616.8,219.8L616.7,220.0L616.5,220.5L616.4,220.8L616.2,221.1L616.2,221.4L616.3,221.8L616.3,222.2L616.3,222.8L616.3,223.2L616.2,223.6L616.2,224.0L616.0,224.5L616.0,224.8L615.8,225.2L615.6,225.5L615.5,225.8L615.2,226.2L615.1,226.5L614.9,226.8L614.7,227.0L614.5,227.2L614.2,227.5L614.0,227.8L613.7,228.0L613.4,228.2L613.1,228.5L612.8,228.8L612.5,228.9L612.2,229.1L611.9,229.2L611.5,229.5L611.2,229.6L610.8,229.8L610.5,229.9L610.0,230.0L609.8,230.1L609.2,230.2L609.0,230.3ZM609.0,229.8L608.5,229.9L608.0,229.9L607.5,229.9L607.0,230.0L606.5,229.9L606.0,229.9L605.5,229.9L605.0,229.8L604.8,229.7L604.2,229.6L604.0,229.5L603.5,229.3L603.2,229.2L602.8,229.0L602.5,228.9L602.2,228.8L601.8,228.5L601.5,228.3L601.2,228.1L601.0,227.9L600.8,227.7L600.5,227.5L600.2,227.2L600.0,227.0L599.8,226.7L599.5,226.4L599.2,226.0L599.1,225.8L599.0,225.5L598.8,225.0L598.6,224.8L598.5,224.4L598.4,224.0L598.3,223.5L598.2,223.1L598.2,222.8L598.2,222.2L598.2,221.9L598.3,221.5L598.4,221.0L598.5,220.6L598.6,220.2L598.8,220.0L599.0,219.5L599.1,219.2L599.2,219.0L599.5,218.6L599.8,218.3L600.0,218.0L600.2,217.8L600.5,217.5L600.8,217.3L601.0,217.1L601.2,216.9L601.5,216.7L601.8,216.5L602.2,216.2L602.4,216.0L602.5,215.8L602.8,215.4L603.0,215.0L603.1,214.8L603.2,214.5L603.5,214.1L603.7,213.8L603.8,213.5L604.0,213.2L604.2,212.8L604.4,212.5L604.6,212.2L604.8,211.9L605.0,211.5L605.2,211.2L605.3,211.0L605.5,210.7L605.8,210.3L605.9,210.0L606.1,209.8L606.2,209.4L606.5,209.0L606.7,208.8L606.8,208.5L607.0,208.2L607.2,207.8L607.4,207.5L607.6,207.2L607.8,207.0L608.0,206.6L608.2,206.3L608.5,206.0L608.7,205.8L608.9,205.5L609.1,205.2L609.3,205.0L609.5,204.7L609.8,204.4L610.0,204.1L610.2,203.8L610.4,203.5L610.6,203.2L610.8,203.0L611.0,202.8L611.2,202.5L611.5,202.2L611.8,201.9L612.0,201.6L612.2,201.3L612.5,201.0L612.7,200.8L612.9,200.5L613.1,200.2L613.3,200.0L613.5,199.7L613.8,199.4L614.0,199.1L614.2,198.8L614.5,198.5L614.7,198.2L615.0,198.0L615.1,197.8L615.2,197.5L615.5,197.0L615.6,196.8L615.8,196.5L616.0,196.1L616.2,195.8L616.3,195.5L616.5,195.2L616.8,194.8L617.0,194.5L617.1,194.2L617.3,194.0L617.5,193.7L617.8,193.4L618.0,193.0L618.2,192.8L618.5,192.5L618.7,192.2L619.0,192.0L619.2,191.8L619.5,191.6L619.9,191.5L620.1,191.5L620.5,191.6L620.8,191.8L621.0,192.2L621.1,192.5L621.2,192.9L621.3,193.2L621.4,193.8L621.5,194.2L621.5,194.5L621.6,195.0L621.6,195.5L621.6,196.0L621.7,196.5L621.7,197.0L621.7,197.5L621.7,198.0L621.7,198.5L621.7,199.0L621.6,199.5L621.6,200.0L621.6,200.5L621.5,200.9L621.4,201.2L621.3,201.8L621.2,202.0L621.1,202.5L621.0,203.0L621.0,203.2L620.8,203.8L620.8,204.1L620.7,204.5L620.5,205.0L620.5,205.2L620.3,205.8L620.2,206.1L620.2,206.5L620.0,207.0L620.0,207.2L619.8,207.8L619.8,208.1L619.6,208.5L619.5,209.0L619.4,209.2L619.3,209.8L619.2,210.0L619.1,210.5L619.0,210.9L618.9,211.2L618.8,211.8L618.7,212.0L618.5,212.5L618.4,212.8L618.3,213.2L618.2,213.5L618.0,214.0L617.9,214.2L617.8,214.7L617.6,215.0L617.5,215.4L617.4,215.8L617.2,216.1L617.1,216.5L617.0,216.8L616.8,217.2L616.7,217.5L616.5,218.0L616.4,218.2L616.2,218.7L616.1,219.0L616.0,219.4L615.9,219.8L615.8,220.0L615.6,220.5L615.6,221.0L615.7,221.5L615.8,221.9L615.8,222.2L615.8,222.8L615.8,223.1L615.7,223.5L615.6,224.0L615.5,224.4L615.4,224.8L615.2,225.0L615.0,225.5L614.9,225.8L614.8,226.0L614.5,226.4L614.2,226.7L614.0,227.0L613.8,227.2L613.5,227.5L613.2,227.7L613.0,227.9L612.8,228.1L612.5,228.3L612.2,228.5L611.8,228.8L611.5,228.9L611.2,229.0L610.8,229.2L610.5,229.3L610.0,229.5L609.8,229.6L609.2,229.7L609.0,229.8ZM608.8,229.3L608.2,229.4L607.8,229.4L607.2,229.5L606.8,229.5L606.2,229.4L605.8,229.4L605.2,229.3L605.0,229.2L604.5,229.1L604.1,229.0L603.8,228.9L603.4,228.8L603.0,228.6L602.8,228.4L602.4,228.2L602.0,228.0L601.8,227.8L601.5,227.6L601.2,227.4L601.0,227.2L600.8,227.0L600.5,226.7L600.2,226.4L600.0,226.1L599.8,225.8L599.6,225.5L599.5,225.2L599.3,224.8L599.2,224.5L599.0,224.0L599.0,223.8L598.9,223.2L598.8,222.8L598.8,222.2L598.9,221.8L599.0,221.2L599.0,221.0L599.2,220.5L599.3,220.2L599.5,219.8L599.6,219.5L599.8,219.2L600.0,218.9L600.2,218.6L600.5,218.3L600.8,218.0L601.0,217.8L601.2,217.6L601.5,217.4L601.8,217.2L602.0,217.0L602.4,216.8L602.8,216.6L603.0,216.4L603.3,216.2L603.5,215.9L603.8,215.5L603.9,215.2L604.1,215.0L604.2,214.7L604.5,214.3L604.7,214.0L604.8,213.8L605.0,213.5L605.2,213.1L605.5,212.8L605.6,212.5L605.8,212.2L606.0,211.9L606.2,211.5L606.4,211.2L606.6,211.0L606.8,210.8L607.0,210.4L607.2,210.0L607.4,209.8L607.6,209.5L607.8,209.2L608.0,208.9L608.2,208.5L608.4,208.2L608.6,208.0L608.8,207.8L609.0,207.4L609.2,207.1L609.5,206.8L609.8,206.5L610.0,206.2L610.2,206.0L610.4,205.8L610.6,205.5L610.8,205.2L611.0,205.0L611.3,204.8L611.5,204.5L611.8,204.2L612.0,203.9L612.2,203.6L612.5,203.3L612.8,203.1L613.0,202.8L613.2,202.5L613.5,202.3L613.8,202.0L614.0,201.8L614.2,201.5L614.5,201.3L614.8,201.0L615.0,200.8L615.2,200.5L615.5,200.3L615.8,200.1L616.0,199.9L616.2,199.7L616.5,199.5L616.9,199.2L617.2,199.0L617.5,198.9L617.9,198.8L618.2,198.7L618.5,198.8L618.8,199.0L619.0,199.4L619.2,199.8L619.2,200.2L619.3,200.5L619.3,201.0L619.3,201.5L619.3,202.0L619.2,202.2L619.2,202.8L619.1,203.2L619.1,203.8L619.0,204.2L619.0,204.5L618.9,205.0L618.8,205.5L618.7,205.8L618.7,206.2L618.6,206.8L618.5,207.0L618.4,207.5L618.3,208.0L618.2,208.2L618.1,208.8L618.0,209.2L618.0,209.5L617.9,210.0L617.8,210.5L617.7,210.8L617.6,211.2L617.5,211.5L617.4,212.0L617.2,212.4L617.1,212.8L617.0,213.2L616.9,213.5L616.8,214.0L616.7,214.2L616.5,214.8L616.4,215.0L616.3,215.5L616.2,215.8L616.0,216.2L615.9,216.5L615.8,217.0L615.7,217.2L615.5,217.8L615.4,218.0L615.2,218.5L615.2,218.8L615.0,219.2L614.9,219.5L614.8,219.9L614.7,220.2L614.8,220.5L615.0,221.0L615.0,221.2L615.1,221.8L615.2,222.2L615.2,222.8L615.1,223.2L615.0,223.8L615.0,224.0L614.8,224.5L614.7,224.8L614.5,225.2L614.4,225.5L614.2,225.8L614.0,226.1L613.8,226.4L613.5,226.7L613.2,227.0L613.0,227.2L612.8,227.4L612.5,227.6L612.2,227.8L612.0,228.0L611.6,228.2L611.2,228.4L611.0,228.6L610.6,228.8L610.2,228.9L609.9,229.0L609.5,229.1L609.0,229.2L608.8,229.3ZM608.5,228.8L608.0,228.9L607.5,228.9L607.0,228.9L606.5,228.9L606.0,228.9L605.5,228.8L605.2,228.7L604.8,228.6L604.4,228.5L604.0,228.4L603.7,228.2L603.2,228.1L603.0,227.9L602.7,227.8L602.3,227.5L602.0,227.3L601.8,227.1L601.5,226.9L601.2,226.6L601.0,226.4L600.8,226.1L600.5,225.8L600.3,225.5L600.2,225.2L600.0,224.9L599.8,224.5L599.7,224.2L599.6,223.8L599.5,223.2L599.5,223.0L599.5,222.5L599.5,222.0L599.5,221.8L599.6,221.2L599.7,220.8L599.8,220.5L600.0,220.1L600.2,219.8L600.3,219.5L600.5,219.2L600.8,218.9L601.0,218.6L601.2,218.4L601.5,218.1L601.8,217.9L602.0,217.7L602.3,217.5L602.7,217.2L603.0,217.1L603.2,216.9L603.7,216.8L604.0,216.6L604.4,216.5L604.6,216.2L604.8,216.0L605.0,215.7L605.2,215.3L605.5,215.0L605.6,214.8L605.8,214.5L606.0,214.2L606.2,213.9L606.5,213.5L606.7,213.2L606.9,213.0L607.1,212.8L607.2,212.5L607.5,212.1L607.8,211.8L608.0,211.5L608.2,211.2L608.4,211.0L608.5,210.8L608.8,210.5L609.0,210.2L609.2,209.9L609.5,209.6L609.8,209.3L610.0,209.0L610.2,208.8L610.4,208.5L610.6,208.2L610.9,208.0L611.1,207.8L611.4,207.5L611.7,207.2L612.0,207.0L612.2,206.8L612.5,206.6L612.8,206.4L613.0,206.2L613.3,206.0L613.7,205.8L614.0,205.6L614.3,205.5L614.8,205.4L615.2,205.5L615.5,205.7L615.7,206.0L615.8,206.2L616.0,206.8L616.0,207.0L616.0,207.5L616.1,208.0L616.0,208.5L616.0,209.0L616.0,209.3L616.0,209.8L615.9,210.2L615.8,210.8L615.8,211.2L615.7,211.5L615.6,212.0L615.5,212.5L615.5,212.8L615.4,213.2L615.2,213.7L615.2,214.0L615.1,214.5L615.0,214.8L614.9,215.2L614.8,215.7L614.7,216.0L614.5,216.5L614.5,216.8L614.3,217.2L614.2,217.5L614.1,218.0L614.0,218.4L613.9,218.8L613.8,219.2L613.7,219.5L613.8,219.8L614.0,220.1L614.2,220.5L614.3,220.8L614.4,221.2L614.5,221.8L614.5,222.0L614.5,222.5L614.5,223.0L614.5,223.2L614.4,223.8L614.3,224.2L614.2,224.5L614.0,224.9L613.8,225.2L613.7,225.5L613.5,225.8L613.2,226.1L613.0,226.4L612.8,226.6L612.5,226.9L612.2,227.1L612.0,227.3L611.7,227.5L611.3,227.8L611.0,227.9L610.8,228.1L610.3,228.2L610.0,228.4L609.6,228.5L609.2,228.6L608.8,228.7L608.5,228.8ZM608.0,228.3L607.5,228.3L607.0,228.3L606.5,228.3L606.0,228.3L605.8,228.2L605.2,228.1L604.8,228.0L604.5,227.9L604.1,227.8L603.8,227.6L603.5,227.5L603.1,227.2L602.8,227.1L602.5,226.9L602.2,226.7L602.0,226.5L601.8,226.2L601.5,226.0L601.2,225.6L601.0,225.3L600.8,225.0L600.7,224.8L600.5,224.3L600.4,224.0L600.3,223.5L600.2,223.2L600.2,222.8L600.2,222.2L600.2,221.8L600.3,221.5L600.4,221.0L600.5,220.7L600.7,220.2L600.8,220.0L601.0,219.7L601.2,219.4L601.5,219.0L601.8,218.8L602.0,218.5L602.2,218.3L602.5,218.1L602.8,217.9L603.1,217.8L603.5,217.5L603.8,217.4L604.1,217.2L604.5,217.1L604.8,217.0L605.2,216.9L605.8,216.8L606.0,216.7L606.3,216.5L606.5,216.2L606.8,216.0L607.0,215.7L607.2,215.4L607.5,215.1L607.8,214.8L608.0,214.6L608.2,214.3L608.5,214.0L608.8,213.8L609.0,213.6L609.2,213.3L609.5,213.1L609.8,212.9L610.0,212.7L610.4,212.5L610.8,212.3L611.0,212.2L611.5,212.1L612.0,212.2L612.2,212.5L612.4,212.8L612.5,213.0L612.7,213.5L612.7,214.0L612.8,214.5L612.8,214.8L612.7,215.0L612.7,215.5L612.7,216.0L612.6,216.5L612.5,217.0L612.5,217.2L612.4,217.8L612.3,218.2L612.2,218.6L612.2,218.8L612.5,219.0L612.8,219.4L613.0,219.7L613.2,220.0L613.3,220.2L613.5,220.7L613.6,221.0L613.7,221.5L613.8,221.8L613.8,222.2L613.8,222.8L613.8,223.2L613.7,223.5L613.6,224.0L613.5,224.3L613.3,224.8L613.2,225.0L613.0,225.3L612.8,225.6L612.5,226.0L612.2,226.2L612.0,226.5L611.8,226.7L611.5,226.9L611.2,227.1L610.9,227.2L610.5,227.5L610.2,227.6L609.9,227.8L609.5,227.9L609.2,228.0L608.8,228.1L608.2,228.2L608.0,228.3ZM608.2,227.5L607.8,227.6L607.2,227.6L606.8,227.6L606.2,227.6L605.8,227.5L605.5,227.5L605.0,227.4L604.7,227.2L604.2,227.1L604.0,227.0L603.6,226.8L603.2,226.5L603.0,226.4L602.8,226.2L602.5,225.9L602.2,225.7L602.0,225.4L601.8,225.1L601.6,224.8L601.4,224.5L601.2,224.1L601.1,223.8L601.0,223.2L601.0,223.0L600.9,222.5L601.0,222.0L601.0,221.8L601.1,221.2L601.2,220.9L601.4,220.5L601.6,220.2L601.8,219.9L602.0,219.6L602.2,219.3L602.5,219.1L602.8,218.8L603.0,218.6L603.2,218.5L603.6,218.2L604.0,218.0L604.2,217.9L604.7,217.8L605.0,217.6L605.5,217.5L605.8,217.5L606.2,217.4L606.8,217.4L607.2,217.4L607.8,217.4L608.2,217.5L608.5,217.5L609.0,217.6L609.3,217.8L609.8,217.9L610.0,218.0L610.4,218.2L610.8,218.5L611.0,218.6L611.2,218.8L611.5,219.1L611.8,219.3L612.0,219.6L612.2,219.9L612.4,220.2L612.6,220.5L612.8,220.9L612.9,221.2L613.0,221.8L613.0,222.0L613.1,222.5L613.0,223.0L613.0,223.2L612.9,223.8L612.8,224.1L612.6,224.5L612.4,224.8L612.2,225.1L612.0,225.4L611.8,225.7L611.5,225.9L611.2,226.2L611.0,226.4L610.8,226.5L610.4,226.8L610.0,227.0L609.8,227.1L609.3,227.2L609.0,227.4L608.5,227.5L608.2,227.5ZM608.2,226.8L607.8,226.8L607.2,226.9L606.8,226.9L606.2,226.8L605.8,226.8L605.5,226.7L605.0,226.5L604.8,226.4L604.3,226.2L604.0,226.1L603.8,225.9L603.5,225.7L603.2,225.5L603.0,225.2L602.8,225.0L602.5,224.6L602.3,224.2L602.2,224.0L602.0,223.6L601.9,223.2L601.9,222.8L601.9,222.2L601.9,221.8L602.0,221.4L602.2,221.0L602.3,220.8L602.5,220.4L602.8,220.0L603.0,219.8L603.2,219.5L603.5,219.3L603.8,219.1L604.0,218.9L604.3,218.8L604.8,218.6L605.0,218.5L605.5,218.3L605.8,218.2L606.2,218.2L606.8,218.1L607.2,218.1L607.8,218.2L608.2,218.2L608.5,218.3L609.0,218.5L609.2,218.6L609.7,218.8L610.0,218.9L610.2,219.1L610.5,219.3L610.8,219.5L611.0,219.8L611.2,220.0L611.5,220.4L611.7,220.8L611.8,221.0L612.0,221.4L612.1,221.8L612.1,222.2L612.1,222.8L612.1,223.2L612.0,223.6L611.8,224.0L611.7,224.2L611.5,224.6L611.2,225.0L611.0,225.2L610.8,225.5L610.5,225.7L610.2,225.9L610.0,226.1L609.7,226.2L609.2,226.4L609.0,226.5L608.5,226.7L608.2,226.8ZM608.2,225.8L607.8,225.9L607.2,225.9L606.8,225.9L606.2,225.9L605.8,225.8L605.5,225.7L605.0,225.5L604.8,225.4L604.5,225.2L604.2,225.0L603.9,224.8L603.7,224.5L603.5,224.2L603.2,223.8L603.1,223.5L603.0,223.1L603.0,222.8L603.0,222.2L603.0,221.9L603.1,221.5L603.2,221.2L603.5,220.8L603.7,220.5L603.9,220.2L604.2,220.0L604.5,219.8L604.8,219.6L605.0,219.5L605.5,219.3L605.8,219.2L606.2,219.1L606.8,219.1L607.2,219.1L607.8,219.1L608.2,219.2L608.5,219.3L609.0,219.5L609.2,219.6L609.5,219.8L609.8,220.0L610.1,220.2L610.3,220.5L610.5,220.8L610.8,221.2L610.9,221.5L611.0,221.9L611.0,222.2L611.0,222.8L611.0,223.1L610.9,223.5L610.8,223.8L610.5,224.2L610.3,224.5L610.1,224.8L609.8,225.0L609.5,225.2L609.2,225.4L609.0,225.5L608.5,225.7L608.2,225.8ZM607.8,224.6L607.2,224.6L606.8,224.6L606.2,224.6L606.0,224.5L605.5,224.2L605.2,224.0L605.0,223.8L604.8,223.5L604.6,223.2L604.5,222.8L604.5,222.5L604.5,222.2L604.6,221.8L604.8,221.5L605.0,221.2L605.2,221.0L605.5,220.8L606.0,220.5L606.2,220.4L606.8,220.4L607.2,220.4L607.8,220.4L608.0,220.5L608.5,220.8L608.8,221.0L609.0,221.2L609.2,221.5L609.4,221.8L609.5,222.2L609.5,222.5L609.5,222.8L609.4,223.2L609.2,223.5L609.0,223.8L608.8,224.0L608.5,224.2L608.0,224.5L607.8,224.6Z" stroke="#222" stroke-width="0.5" fill="none"/>
<text x="651.6" y="146.8" font-size="11.8" font-weight="bold" font-family="Liberation Sans" fill="#231f20" text-anchor="start" textLength="29.4" lengthAdjust="spacingAndGlyphs">5.55%</text>
<ellipse cx="662" cy="219.9" rx="3.7" ry="4.5" fill="none" stroke="#444" stroke-width="0.6"/>
<path d="M567.3,228.4V148" stroke="#231f20" stroke-width="2.6"/>
<path d="M563.3,149.6L567.3,141.9L571.3,149.6Z" fill="#231f20"/>
<g transform="translate(563.5,226.4) rotate(-90)"><text x="0" y="0" font-size="16.3" font-weight="normal" font-family="Liberation Sans" fill="#231f20" text-anchor="start" textLength="38.6" lengthAdjust="spacingAndGlyphs" stroke="#231f20" stroke-width="0.3">SSC-A</text></g>
<path d="M580.7,252.4H663" stroke="#231f20" stroke-width="2.6"/>
<path d="M662,248.6L672,252.4L662,256.2Z" fill="#231f20"/>
<text x="581.8" y="267.8" font-size="12" font-weight="normal" font-family="Liberation Sans" fill="#231f20" text-anchor="start" textLength="91" lengthAdjust="spacingAndGlyphs" stroke="#231f20" stroke-width="0.3">Anti-human IgG</text>
<text x="547.8" y="278.9" font-size="19.5" font-weight="bold" font-family="Liberation Sans" fill="#231f20" text-anchor="start" textLength="15.5" lengthAdjust="spacingAndGlyphs" stroke="#231f20" stroke-width="0.35">E.</text>
<path d="M585,277.9V458.3" stroke="#231f20" stroke-width="1.4"/>
<path d="M581,278.7H585" stroke="#231f20" stroke-width="1.3"/>
<text x="578.6" y="281.59999999999997" font-size="7.4" font-weight="normal" font-family="Liberation Sans" fill="#222" text-anchor="end">8</text>
<path d="M581,323.4H585" stroke="#231f20" stroke-width="1.3"/>
<text x="578.6" y="326.29999999999995" font-size="7.4" font-weight="normal" font-family="Liberation Sans" fill="#222" text-anchor="end">6</text>
<path d="M581,368.1H585" stroke="#231f20" stroke-width="1.3"/>
<text x="578.6" y="371.0" font-size="7.4" font-weight="normal" font-family="Liberation Sans" fill="#222" text-anchor="end">4</text>
<path d="M581,412.8H585" stroke="#231f20" stroke-width="1.3"/>
<text x="578.6" y="415.7" font-size="7.4" font-weight="normal" font-family="Liberation Sans" fill="#222" text-anchor="end">2</text>
<path d="M581,457.5H585" stroke="#231f20" stroke-width="1.3"/>
<text x="578.6" y="460.4" font-size="7.4" font-weight="normal" font-family="Liberation Sans" fill="#222" text-anchor="end">0</text>
<path d="M584.3,457.5H679" stroke="#231f20" stroke-width="1.5"/>
<path d="M609.8,457.5V462" stroke="#231f20" stroke-width="1.3"/>
<path d="M655.2,457.5V462" stroke="#231f20" stroke-width="1.3"/>
<g transform="translate(569.4,422.3) rotate(-90)"><text x="0" y="0" font-size="13.2" font-weight="bold" font-family="Liberation Sans" fill="#231f20" text-anchor="start" textLength="125.5" lengthAdjust="spacingAndGlyphs">%SH-Sy5y bound cells</text></g>
<rect x="598" y="390.4" width="24.1" height="67.1" fill="#fff" stroke="#231f20" stroke-width="1.3"/>
<rect x="643.3" y="360.7" width="24" height="96.8" fill="#e6e7e8" stroke="#231f20" stroke-width="1.3"/>
<path d="M609.8,362.5V415.6" stroke="#888" stroke-width="0.9"/>
<path d="M603.5,362.5H616.2M603.5,415.6H616.2" stroke="#555" stroke-width="0.9"/>
<path d="M655.2,338V382.2" stroke="#888" stroke-width="0.9"/>
<path d="M649,338H661.6M649.4,382.2H661.6" stroke="#888" stroke-width="0.9"/>
<path d="M610,314.9V298.5H655.4V304.2" stroke="#333" stroke-width="1.1" fill="none"/>
<path d="M626.80,288.90L626.80,294.50M629.22,290.30L624.38,293.10M629.22,293.10L624.38,290.30" stroke="#231f20" stroke-width="1.5" fill="none"/>
<path d="M632.60,288.90L632.60,294.50M635.02,290.30L630.18,293.10M635.02,293.10L630.18,290.30" stroke="#231f20" stroke-width="1.5" fill="none"/>
<path d="M638.40,288.90L638.40,294.50M640.82,290.30L635.98,293.10M640.82,293.10L635.98,290.30" stroke="#231f20" stroke-width="1.5" fill="none"/>
<circle cx="610" cy="321.7" r="1.35" fill="#231f20"/>
<circle cx="610" cy="345.7" r="1.35" fill="#231f20"/>
<circle cx="610" cy="361.5" r="1.35" fill="#231f20"/>
<circle cx="609.8" cy="379.6" r="1.35" fill="#231f20"/>
<circle cx="607.2" cy="384.8" r="1.35" fill="#231f20"/>
<circle cx="612.4" cy="386.1" r="1.35" fill="#231f20"/>
<circle cx="609.8" cy="391.3" r="1.35" fill="#231f20"/>
<circle cx="609.8" cy="395.2" r="1.35" fill="#231f20"/>
<circle cx="609.8" cy="399.2" r="1.35" fill="#231f20"/>
<circle cx="604.1" cy="405.2" r="1.35" fill="#231f20"/>
<circle cx="609.8" cy="404.4" r="1.35" fill="#231f20"/>
<circle cx="615.8" cy="405.2" r="1.35" fill="#231f20"/>
<circle cx="609.8" cy="410.9" r="1.35" fill="#231f20"/>
<circle cx="604.1" cy="417.4" r="1.35" fill="#231f20"/>
<circle cx="609.8" cy="415.6" r="1.35" fill="#231f20"/>
<circle cx="615.8" cy="416.9" r="1.35" fill="#231f20"/>
<rect x="653.30" y="307.70" width="4.2" height="4.2" fill="#8a8a8a" stroke="#3a3a3a" stroke-width="0.8"/>
<rect x="647.60" y="330.60" width="4.2" height="4.2" fill="#8a8a8a" stroke="#3a3a3a" stroke-width="0.8"/>
<rect x="653.00" y="332.70" width="4.2" height="4.2" fill="#8a8a8a" stroke="#3a3a3a" stroke-width="0.8"/>
<rect x="658.50" y="331.10" width="4.2" height="4.2" fill="#8a8a8a" stroke="#3a3a3a" stroke-width="0.8"/>
<rect x="647.60" y="335.90" width="4.2" height="4.2" fill="#8a8a8a" stroke="#3a3a3a" stroke-width="0.8"/>
<rect x="642.30" y="339.20" width="4.2" height="4.2" fill="#8a8a8a" stroke="#3a3a3a" stroke-width="0.8"/>
<rect x="658.50" y="340.60" width="4.2" height="4.2" fill="#8a8a8a" stroke="#3a3a3a" stroke-width="0.8"/>
<rect x="663.80" y="339.80" width="4.2" height="4.2" fill="#8a8a8a" stroke="#3a3a3a" stroke-width="0.8"/>
<rect x="647.60" y="342.60" width="4.2" height="4.2" fill="#8a8a8a" stroke="#3a3a3a" stroke-width="0.8"/>
<rect x="653.00" y="344.20" width="4.2" height="4.2" fill="#8a8a8a" stroke="#3a3a3a" stroke-width="0.8"/>
<rect x="647.60" y="347.40" width="4.2" height="4.2" fill="#8a8a8a" stroke="#3a3a3a" stroke-width="0.8"/>
<rect x="658.50" y="348.80" width="4.2" height="4.2" fill="#8a8a8a" stroke="#3a3a3a" stroke-width="0.8"/>
<rect x="653.00" y="351.00" width="4.2" height="4.2" fill="#8a8a8a" stroke="#3a3a3a" stroke-width="0.8"/>
<rect x="647.60" y="353.90" width="4.2" height="4.2" fill="#8a8a8a" stroke="#3a3a3a" stroke-width="0.8"/>
<rect x="658.50" y="354.30" width="4.2" height="4.2" fill="#8a8a8a" stroke="#3a3a3a" stroke-width="0.8"/>
<rect x="653.00" y="358.20" width="4.2" height="4.2" fill="#8a8a8a" stroke="#3a3a3a" stroke-width="0.8"/>
<rect x="642.30" y="360.80" width="4.2" height="4.2" fill="#8a8a8a" stroke="#3a3a3a" stroke-width="0.8"/>
<rect x="663.80" y="360.30" width="4.2" height="4.2" fill="#8a8a8a" stroke="#3a3a3a" stroke-width="0.8"/>
<rect x="647.60" y="363.70" width="4.2" height="4.2" fill="#8a8a8a" stroke="#3a3a3a" stroke-width="0.8"/>
<rect x="653.00" y="362.90" width="4.2" height="4.2" fill="#8a8a8a" stroke="#3a3a3a" stroke-width="0.8"/>
<rect x="642.30" y="365.10" width="4.2" height="4.2" fill="#8a8a8a" stroke="#3a3a3a" stroke-width="0.8"/>
<rect x="658.50" y="366.50" width="4.2" height="4.2" fill="#8a8a8a" stroke="#3a3a3a" stroke-width="0.8"/>
<rect x="653.00" y="366.80" width="4.2" height="4.2" fill="#8a8a8a" stroke="#3a3a3a" stroke-width="0.8"/>
<rect x="647.60" y="369.00" width="4.2" height="4.2" fill="#8a8a8a" stroke="#3a3a3a" stroke-width="0.8"/>
<rect x="658.50" y="371.90" width="4.2" height="4.2" fill="#8a8a8a" stroke="#3a3a3a" stroke-width="0.8"/>
<rect x="653.00" y="374.70" width="4.2" height="4.2" fill="#8a8a8a" stroke="#3a3a3a" stroke-width="0.8"/>
<rect x="653.00" y="379.80" width="4.2" height="4.2" fill="#8a8a8a" stroke="#3a3a3a" stroke-width="0.8"/>
<rect x="653.00" y="385.50" width="4.2" height="4.2" fill="#8a8a8a" stroke="#3a3a3a" stroke-width="0.8"/>
<rect x="647.40" y="402.80" width="4.2" height="4.2" fill="#8a8a8a" stroke="#3a3a3a" stroke-width="0.8"/>
<rect x="652.90" y="401.00" width="4.2" height="4.2" fill="#8a8a8a" stroke="#3a3a3a" stroke-width="0.8"/>
<rect x="658.60" y="402.30" width="4.2" height="4.2" fill="#8a8a8a" stroke="#3a3a3a" stroke-width="0.8"/>
<text x="602.8" y="472.8" font-size="10" font-weight="bold" font-family="Liberation Sans" fill="#231f20" text-anchor="start" textLength="14.8" lengthAdjust="spacingAndGlyphs">HC</text>
<text x="647.7" y="472.8" font-size="10" font-weight="bold" font-family="Liberation Sans" fill="#231f20" text-anchor="start" textLength="15.1" lengthAdjust="spacingAndGlyphs">MS</text>
<text x="600.1" y="486.6" font-size="11" font-weight="bold" font-family="Liberation Sans" fill="#231f20" text-anchor="start" textLength="20.1" lengthAdjust="spacingAndGlyphs">3.03</text>
<text x="645.6" y="486.6" font-size="11" font-weight="bold" font-family="Liberation Sans" fill="#231f20" text-anchor="start" textLength="21.6" lengthAdjust="spacingAndGlyphs">4.36</text>
</svg>
</body></html>
